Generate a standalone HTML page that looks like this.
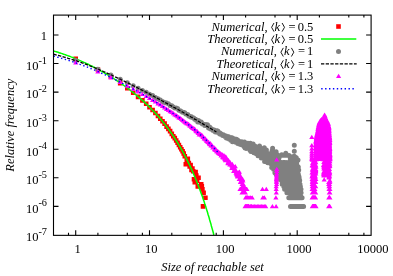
<!DOCTYPE html>
<html><head><meta charset="utf-8"><title>Reachable set size distribution</title>
<style>html,body{margin:0;padding:0;background:#fff;font-family:"Liberation Serif",serif}svg{display:block;will-change:transform}</style></head>
<body>
<svg width="393" height="276" viewBox="0 0 393 276">
<rect width="393" height="276" fill="#fff"/>
<defs><clipPath id="c"><rect x="53.5" y="15.1" width="317.6" height="220.25"/></clipPath></defs>
<g clip-path="url(#c)">
<path d="M73.4 56.5h4.6v4.6h-4.6zM95.6 67.2h4.6v4.6h-4.6zM108.6 74.4h4.6v4.6h-4.6zM117.9 80.8h4.6v4.6h-4.6zM125 86h4.6v4.6h-4.6zM130.9 90.5h4.6v4.6h-4.6zM135.8 94.6h4.6v4.6h-4.6zM140.1 98.1h4.6v4.6h-4.6zM143.9 101.5h4.6v4.6h-4.6zM147.2 104.9h4.6v4.6h-4.6zM150.3 107.7h4.6v4.6h-4.6zM153.1 110.7h4.6v4.6h-4.6zM155.7 113.7h4.6v4.6h-4.6zM158 116.5h4.6v4.6h-4.6zM160.2 119h4.6v4.6h-4.6zM162.3 121.3h4.6v4.6h-4.6zM164.3 124.3h4.6v4.6h-4.6zM166.1 126.6h4.6v4.6h-4.6zM167.8 128.8h4.6v4.6h-4.6zM169.5 131.6h4.6v4.6h-4.6zM171 134h4.6v4.6h-4.6zM172.5 135.8h4.6v4.6h-4.6zM173.9 138.2h4.6v4.6h-4.6zM175.3 140.5h4.6v4.6h-4.6zM176.6 142.7h4.6v4.6h-4.6zM177.9 144.9h4.6v4.6h-4.6zM179.1 146.9h4.6v4.6h-4.6zM180.3 148.9h4.6v4.6h-4.6zM181.4 151.2h4.6v4.6h-4.6zM182.5 153.9h4.6v4.6h-4.6zM183.5 161.9h4.6v4.6h-4.6zM184.5 157.4h4.6v4.6h-4.6zM185.5 156.6h4.6v4.6h-4.6zM186.5 160.7h4.6v4.6h-4.6zM187.4 164.2h4.6v4.6h-4.6zM188.3 162.8h4.6v4.6h-4.6zM189.2 167.6h4.6v4.6h-4.6zM190.1 166.3h4.6v4.6h-4.6zM190.9 169h4.6v4.6h-4.6zM191.7 176.9h4.6v4.6h-4.6zM192.5 180h4.6v4.6h-4.6zM193.3 169.7h4.6v4.6h-4.6zM194 173.3h4.6v4.6h-4.6zM194.8 178.3h4.6v4.6h-4.6zM195.5 184.1h4.6v4.6h-4.6zM196.2 175.5h4.6v4.6h-4.6zM196.9 184.1h4.6v4.6h-4.6zM197.5 184.1h4.6v4.6h-4.6zM198.2 184.1h4.6v4.6h-4.6zM198.9 181.9h4.6v4.6h-4.6zM199.5 184.1h4.6v4.6h-4.6zM200.1 186.9h4.6v4.6h-4.6zM200.7 204.1h4.6v4.6h-4.6zM201.3 190.5h4.6v4.6h-4.6zM203.1 195.5h4.6v4.6h-4.6z" fill="#f00"/>
<path d="M53.5 50.9 L54 51.1 L54.6 51.3 L55.2 51.4 L55.7 51.6 L56.3 51.8 L56.9 52 L57.4 52.1 L58 52.3 L58.6 52.5 L59.2 52.7 L59.7 52.9 L60.3 53 L60.9 53.2 L61.4 53.4 L62 53.6 L62.6 53.8 L63.1 54 L63.7 54.2 L64.3 54.4 L64.8 54.6 L65.4 54.8 L66 55 L66.5 55.2 L67.1 55.4 L67.7 55.6 L68.2 55.8 L68.8 56 L69.4 56.2 L70 56.4 L70.5 56.6 L71.1 56.9 L71.7 57.1 L72.2 57.3 L72.8 57.5 L73.4 57.8 L73.9 58 L74.5 58.2 L75.1 58.4 L75.6 58.7 L76.2 58.9 L76.8 59.1 L77.3 59.4 L77.9 59.6 L78.5 59.9 L79 60.1 L79.6 60.4 L80.2 60.6 L80.7 60.9 L81.3 61.1 L81.9 61.4 L82.5 61.6 L83 61.9 L83.6 62.1 L84.2 62.4 L84.7 62.6 L85.3 62.9 L85.9 63.2 L86.4 63.4 L87 63.7 L87.6 64 L88.1 64.3 L88.7 64.5 L89.3 64.8 L89.8 65.1 L90.4 65.4 L91 65.7 L91.5 65.9 L92.1 66.2 L92.7 66.5 L93.2 66.8 L93.8 67.1 L94.4 67.4 L95 67.7 L95.5 68 L96.1 68.3 L96.7 68.6 L97.2 68.9 L97.8 69.2 L98.4 69.5 L98.9 69.8 L99.5 70.1 L100.1 70.4 L100.6 70.8 L101.2 71.1 L101.8 71.4 L102.3 71.7 L102.9 72 L103.5 72.4 L104 72.7 L104.6 73 L105.2 73.3 L105.8 73.7 L106.3 74 L106.9 74.4 L107.5 74.7 L108 75 L108.6 75.4 L109.2 75.7 L109.7 76.1 L110.3 76.4 L110.9 76.8 L111.4 77.1 L112 77.5 L112.6 77.8 L113.1 78.2 L113.7 78.6 L114.3 78.9 L114.8 79.3 L115.4 79.7 L116 80 L116.5 80.4 L117.1 80.8 L117.7 81.2 L118.3 81.6 L118.8 81.9 L119.4 82.3 L120 82.7 L120.5 83.1 L121.1 83.5 L121.7 83.9 L122.2 84.3 L122.8 84.7 L123.4 85.1 L123.9 85.5 L124.5 85.9 L125.1 86.3 L125.6 86.8 L126.2 87.2 L126.8 87.6 L127.3 88 L127.9 88.4 L128.5 88.9 L129 89.3 L129.6 89.7 L130.2 90.2 L130.8 90.6 L131.3 91.1 L131.9 91.5 L132.5 91.9 L133 92.4 L133.6 92.9 L134.2 93.3 L134.7 93.8 L135.3 94.2 L135.9 94.7 L136.4 95.2 L137 95.7 L137.6 96.1 L138.1 96.6 L138.7 97.1 L139.3 97.6 L139.8 98.1 L140.4 98.6 L141 99.1 L141.6 99.6 L142.1 100.1 L142.7 100.6 L143.3 101.1 L143.8 101.6 L144.4 102.2 L145 102.7 L145.5 103.2 L146.1 103.8 L146.7 104.3 L147.2 104.8 L147.8 105.4 L148.4 106 L148.9 106.5 L149.5 107.1 L150.1 107.6 L150.6 108.2 L151.2 108.8 L151.8 109.4 L152.3 110 L152.9 110.6 L153.5 111.2 L154.1 111.8 L154.6 112.4 L155.2 113 L155.8 113.6 L156.3 114.2 L156.9 114.9 L157.5 115.5 L158 116.1 L158.6 116.8 L159.2 117.5 L159.7 118.1 L160.3 118.8 L160.9 119.5 L161.4 120.1 L162 120.8 L162.6 121.5 L163.1 122.2 L163.7 122.9 L164.3 123.6 L164.8 124.4 L165.4 125.1 L166 125.8 L166.6 126.6 L167.1 127.3 L167.7 128.1 L168.3 128.9 L168.8 129.6 L169.4 130.4 L170 131.2 L170.5 132 L171.1 132.8 L171.7 133.7 L172.2 134.5 L172.8 135.3 L173.4 136.2 L173.9 137 L174.5 137.9 L175.1 138.8 L175.6 139.7 L176.2 140.6 L176.8 141.5 L177.4 142.4 L177.9 143.3 L178.5 144.3 L179.1 145.2 L179.6 146.2 L180.2 147.1 L180.8 148.1 L181.3 149.1 L181.9 150.1 L182.5 151.2 L183 152.2 L183.6 153.2 L184.2 154.3 L184.7 155.4 L185.3 156.5 L185.9 157.6 L186.4 158.7 L187 159.8 L187.6 160.9 L188.1 162.1 L188.7 163.3 L189.3 164.5 L189.9 165.7 L190.4 166.9 L191 168.1 L191.6 169.4 L192.1 170.6 L192.7 171.9 L193.3 173.2 L193.8 174.5 L194.4 175.9 L195 177.2 L195.5 178.6 L196.1 180 L196.7 181.4 L197.2 182.8 L197.8 184.3 L198.4 185.7 L198.9 187.2 L199.5 188.7 L200.1 190.3 L200.6 191.8 L201.2 193.4 L201.8 195 L202.4 196.6 L202.9 198.3 L203.5 199.9 L204.1 201.6 L204.6 203.3 L205.2 205.1 L205.8 206.8 L206.3 208.6 L206.9 210.5 L207.5 212.3 L208 214.2 L208.6 216.1 L209.2 218 L209.7 220 L210.3 221.9 L210.9 223.9 L211.4 226 L212 228.1 L212.6 230.2 L213.2 232.3 L213.7 234.5 L214.3 236.7 L214.7 238.3" fill="none" stroke="#0f0" stroke-width="1.5"/>
<path d="M75.7 60.5h0M97.9 69.3h0M110.9 75h0M120.2 79.2h0M127.3 82.7h0M133.2 85.7h0M138.1 88.2h0M142.4 90.5h0M146.2 92.2h0M149.5 94.3h0M152.6 95.5h0M155.4 97.4h0M158 98.7h0M160.3 100.1h0M162.5 101.5h0M164.6 102.6h0M166.6 102.9h0M168.4 103.8h0M170.1 105.5h0M171.8 105.8h0M173.3 107h0M174.8 108.1h0M176.2 108h0M177.6 108.6h0M178.9 110.2h0M180.2 110.8h0M181.4 111.4h0M182.6 112.2h0M183.7 112.4h0M184.8 112.8h0M185.8 113.9h0M186.8 114.2h0M187.8 114.4h0M188.8 115.9h0M189.7 116.2h0M190.6 116.9h0M191.5 116.8h0M192.4 117.4h0M193.2 117.7h0M194 118.2h0M194.8 119.2h0M195.6 119.2h0M196.3 120.2h0M197.1 120.6h0M197.8 121.9h0M198.5 120.6h0M199.2 122.1h0M199.8 122h0M200.5 122.4h0M201.2 122.1h0M201.8 123h0M202.4 124h0M203 123.9h0M203.6 124.3h0M204.2 124.5h0M204.8 125.6h0M205.4 125.3h0M205.9 124.4h0M206.5 125.6h0M207 125.1h0M207.5 124.7h0M208.1 126.6h0M208.6 128h0M209.1 127.6h0M209.6 127.1h0M210.1 127.6h0M210.5 129.1h0M211 128.8h0M211.5 129h0M211.9 129.2h0M212.4 129.6h0M212.8 130.3h0M213.3 130.4h0M213.7 130.5h0M214.2 129.9h0M214.6 131.2h0M215 130.7h0M215.4 132.1h0M215.8 130.8h0M216.2 131.1h0M216.6 130.8h0M217 132.2h0M217.4 132.1h0M217.8 131h0M218.2 132.2h0M218.5 132h0M218.9 132.6h0M219.3 133h0M219.6 133.7h0M220 133.1h0M220.4 134.2h0M220.7 134.1h0M221.1 133.9h0M221.4 133.9h0M221.7 134.3h0M222.1 134.7h0M222.4 134.4h0M222.7 135.6h0M223.1 135h0M223.4 134.7h0M223.7 135.8h0M224 135.4h0M224.3 135.8h0M224.6 135.8h0M224.9 136.5h0M225.2 136.5h0M225.5 136.2h0M225.8 136.6h0M226.1 136.1h0M226.4 137.9h0M226.7 136.8h0M227 137.2h0M227.3 136.5h0M227.6 136.7h0M227.9 138.4h0M228.1 137.9h0M228.4 137.5h0M228.7 136.8h0M229 139h0M229.2 137.3h0M229.5 137.8h0M229.8 138.1h0M230 138.6h0M230.3 138.5h0M230.5 138.6h0M230.8 140.3h0M231 138.9h0M231.3 139.3h0M231.5 137.8h0M231.8 139.8h0M232 137.7h0M232.3 138.8h0M232.5 141.7h0M232.8 138.9h0M233 139.7h0M233.2 138.7h0M233.5 138.8h0M233.7 141.2h0M233.9 139.7h0M234.2 140.1h0M234.4 140h0M234.6 139h0M234.9 140.4h0M235.1 141.8h0M235.3 140h0M235.5 141.4h0M235.7 142.2h0M236 139.8h0M236.2 142.2h0M236.4 139.3h0M236.6 142.2h0M236.8 141.2h0M237 140.4h0M237.2 141.7h0M237.4 141.2h0M237.6 140.1h0M237.8 143.4h0M238 143.6h0M238.3 141.1h0M238.5 141.9h0M238.7 141.9h0M238.9 142.3h0M239 141.2h0M239.2 144h0M239.4 143h0M239.6 141.9h0M239.8 142.5h0M240 142.3h0M240.2 143.1h0M240.4 144.3h0M240.6 144.4h0M240.8 142.3h0M241 143.9h0M241.1 142.7h0M241.3 141.7h0M241.5 142.6h0M241.7 144.1h0M241.9 142.2h0M242.1 143.3h0M242.2 145h0M242.4 143.5h0M242.6 143.6h0M242.8 143.4h0M242.9 142.2h0M243.1 144.4h0M243.3 144.9h0M243.5 145.1h0M243.6 143.6h0M243.8 143.7h0M244 146.4h0M244.1 143.9h0M244.3 144.9h0M244.5 141.9h0M244.6 143.9h0M244.8 144h0M245 143.4h0M245.1 148h0M245.3 145.2h0M245.4 142.9h0M245.6 146h0M245.8 145.9h0M245.9 146.1h0M246.1 148.4h0M246.2 146.1h0M246.4 146.3h0M246.6 145.2h0M246.7 144.7h0M246.9 146.4h0M247 146.3h0M247.2 145h0M247.3 145.8h0M247.5 146.8h0M247.6 147h0M247.8 145.8h0M247.9 143.2h0M248.1 147.4h0M248.2 146.4h0M248.4 145.4h0M248.5 146.3h0M248.7 145.1h0M248.8 147.7h0M249 146.6h0M249.1 144.3h0M249.2 148.1h0M249.4 148.5h0M249.5 147.2h0M249.7 148.6h0M249.8 144.8h0M250 150.2h0M250.1 148.3h0M250.2 149.8h0M250.4 143.2h0M250.5 145h0M250.6 146.7h0M250.8 147.3h0M250.9 151.6h0M251.1 147.9h0M251.2 145.6h0M251.3 149h0M251.5 148.4h0M251.6 146.7h0M251.7 149.7h0M251.9 150.5h0M252 147.7h0M252.1 146.4h0M252.2 149.6h0M252.4 149.1h0M252.5 147.8h0M252.6 146.8h0M252.8 147.9h0M252.9 149.3h0M253 148.6h0M253.1 143.9h0M253.3 149.8h0M253.4 152.1h0M253.5 149.4h0M253.6 150.3h0M253.8 148.7h0M253.9 152.7h0M254 148.8h0M254.1 151.6h0M254.3 151.8h0M254.4 148.6h0M254.5 150.6h0M254.6 146h0M254.8 149.7h0M254.9 146.1h0M255 150.1h0M255.1 148.2h0M255.2 148.7h0M255.4 147.4h0M255.5 149.6h0M255.6 150.6h0M255.7 147.5h0M255.8 148.7h0M255.9 149.9h0M256.1 148.3h0M256.2 152.1h0M256.3 153.8h0M256.4 150.2h0M256.5 149.5h0M256.6 150.1h0M256.7 148.2h0M256.9 147h0M257 148.4h0M257.1 150.5h0M257.2 149.4h0M257.3 148.3h0M257.4 148.1h0M257.5 150.3h0M257.6 149.6h0M257.7 152h0M257.9 148.2h0M258 155.8h0M258.1 150.4h0M258.2 155.2h0M258.3 149.9h0M258.4 151.9h0M258.5 149.7h0M258.6 154.8h0M258.7 152.5h0M258.8 149.4h0M258.9 150.6h0M259 152.7h0M259.1 147.3h0M259.2 149.5h0M259.4 149.9h0M259.5 146h0M259.6 152h0M259.7 156.1h0M259.8 147.3h0M259.9 148.7h0M260 151.8h0M260.1 152.5h0M260.2 152.5h0M260.3 151.1h0M260.4 150.6h0M260.5 147.9h0M260.6 156.4h0M260.7 155.2h0M260.8 150.4h0M260.9 152h0M261 151.5h0M261.1 151.2h0M261.2 149.6h0M261.3 158h0M261.4 151.8h0M261.5 154.2h0M261.6 152h0M261.7 153.2h0M261.8 156.5h0M261.9 152.9h0M262 156.5h0M262.1 151.1h0M262.1 154.5h0M262.2 156.4h0M262.3 154.8h0M262.4 151.2h0M262.5 150.6h0M262.6 152.1h0M262.7 151.4h0M262.8 154h0M262.9 152.7h0M263 151.3h0M263.1 150.1h0M263.2 151.7h0M263.3 153.3h0M263.4 155.4h0M263.5 154.5h0M263.6 155.4h0M263.6 157.1h0M263.7 154.9h0M263.8 149.8h0M263.9 153.2h0M264 150.2h0M264.1 154.4h0M264.2 149.3h0M264.3 154h0M264.4 154.6h0M264.5 156h0M264.5 154.3h0M264.6 161.5h0M264.7 153.2h0M264.8 157h0M264.9 153.2h0M265 151.8h0M265.1 153.4h0M265.2 150.4h0M265.2 155.4h0M265.3 149.5h0M265.4 157.6h0M265.5 154.9h0M265.6 157.2h0M265.7 151.5h0M265.8 160h0M265.9 159.2h0M265.9 158.5h0M266 155h0M266.1 158.2h0M266.2 155.3h0M266.3 159.5h0M266.4 149.9h0M266.4 156h0M266.5 159.9h0M266.6 158.4h0M266.7 158.4h0M266.8 158.7h0M266.9 156.8h0M266.9 152.9h0M267 158.3h0M267.1 155.1h0M267.2 154.7h0M267.3 155.3h0M267.4 156.8h0M267.4 154.1h0M267.5 158h0M267.6 158h0M267.7 159.6h0M267.8 162.7h0M267.8 159.1h0M267.9 157.1h0M268 153.6h0M268.1 158h0M268.2 157.1h0M268.2 159.4h0M268.3 155.9h0M268.4 157.4h0M268.5 158.3h0M268.5 157.8h0M268.6 162.2h0M268.7 153.9h0M268.8 158h0M268.9 161.5h0M268.9 161.3h0M269 156.1h0M269.1 158.4h0M269.2 156.6h0M269.2 161.3h0M269.3 158.6h0M269.4 153.9h0M269.5 155.3h0M269.6 156.1h0M269.6 157h0M269.7 155.1h0M269.8 161.5h0M269.9 161.1h0M269.9 162.7h0M270 159h0M270.1 161.9h0M270.2 156.4h0M270.2 162.2h0M270.3 159.5h0M270.4 156.6h0M270.5 159.3h0M270.5 154.6h0M270.6 159.9h0M270.7 160.6h0M270.7 163.3h0M270.8 159.7h0M270.9 159.8h0M271 156.1h0M271 156.9h0M271.1 155.9h0M271.2 164h0M271.3 154.1h0M271.3 155.6h0M271.4 158.2h0M271.5 157.9h0M271.5 159.3h0M271.6 159.3h0M271.7 167.5h0M271.8 165.1h0M271.8 162.4h0M271.9 160.6h0M272 161.7h0M272 152.6h0M272.1 150.7h0M272.2 163.7h0M272.2 155.8h0M272.3 152.8h0M272.4 159.4h0M272.5 153.9h0M272.5 162.2h0M272.6 153.7h0M272.7 161.5h0M272.7 166h0M272.8 161h0M272.9 159.9h0M272.9 163.3h0M273 167h0M273.1 156.9h0M273.1 166h0M273.2 161.7h0M273.3 159.3h0M273.3 163.8h0M273.4 156.5h0M273.5 158h0M273.5 158.8h0M273.6 169.2h0M273.7 168.6h0M273.7 153.1h0M273.8 151.9h0M273.9 155.9h0M273.9 160.5h0M274 165.5h0M274.1 160.1h0M274.1 152.7h0M274.2 168.1h0M274.3 166h0M274.3 158.2h0M274.4 158.5h0M274.5 154.6h0M274.5 164.6h0M274.6 155.3h0M274.7 158.7h0M274.7 166.5h0M274.8 154.5h0M274.9 172.8h0M274.9 166.5h0M275 171.3h0M275.1 169.2h0M275.1 169.9h0M275.2 167h0M275.2 158.4h0M275.3 164.6h0M275.4 171.3h0M275.4 156.6h0M275.5 169.9h0M275.6 163.4h0M275.6 166.5h0M275.7 154.5h0M275.8 171.3h0M275.8 153.5h0M275.9 160.8h0M275.9 165.5h0M276 159.8h0M276.1 166h0M276.1 168.1h0M276.2 170.6h0M276.2 174.6h0M276.3 155.3h0M276.4 159.2h0M276.4 166.5h0M276.5 154.5h0M276.6 154h0M276.6 172.8h0M276.7 155.5h0M276.7 163.7h0M276.8 162.1h0M276.9 173.7h0M276.9 156.4h0M277 164.2h0M277 154.7h0M277.1 174.6h0M277.2 158.9h0M277.2 160.3h0M277.3 154.8h0M277.3 154.8h0M277.4 159.8h0M277.5 174.6h0M277.5 159h0M277.6 162.2h0M277.6 171.3h0M277.7 169.9h0M277.8 176.7h0M277.8 173.7h0M277.9 161.7h0M277.9 170.6h0M278 162.4h0M278 167h0M278.1 176.7h0M278.2 177.8h0M278.2 162.4h0M278.3 156.7h0M278.3 158.3h0M278.4 175.6h0M278.5 170.6h0M278.5 156.4h0M278.6 166.5h0M278.6 170.6h0M278.7 155.7h0M278.7 176.7h0M278.8 167.5h0M278.9 177.8h0M278.9 164.6h0M279 172h0M279 172.8h0M279.1 179.2h0M279.2 173.7h0M279.3 166.5h0M279.3 170.6h0M279.4 172h0M279.4 172.8h0M279.5 166h0M279.5 168.1h0M279.6 162.2h0M279.6 167h0M279.7 176.7h0M279.8 165.1h0M279.8 177.8h0M279.9 169.9h0M279.9 172h0M280 172.8h0M280.1 172h0M280.1 165.1h0M280.2 163.7h0M280.2 173.7h0M280.4 176.7h0M280.4 165.1h0M280.5 171.3h0M280.6 168.1h0M280.6 174.6h0M280.7 175.6h0M280.8 172.8h0M280.8 179.2h0M280.9 176.7h0M280.9 174.6h0M281 165.5h0M281.1 170.6h0M281.1 173.7h0M281.2 167h0M281.2 166h0M281.3 169.2h0M281.4 163.1h0M281.5 180.6h0M281.7 170.6h0M281.7 166h0M281.8 175.6h0M281.8 167h0M281.9 168.6h0M282 179.2h0M282.1 179.2h0M282.1 173.7h0M282.2 184.2h0M282.3 174.6h0M282.3 167.5h0M282.4 182.3h0M282.4 168.1h0M282.5 176.7h0M282.5 179.2h0M282.6 175.6h0M282.6 170.6h0M282.7 168.6h0M282.7 162.8h0M282.8 170.6h0M282.8 179.2h0M282.9 184.2h0M282.9 175.6h0M283 180.6h0M283 179.2h0M283.1 180.6h0M283.1 176.7h0M283.2 167h0M283.3 168.1h0M283.3 182.3h0M283.4 176.7h0M283.4 163.9h0M283.5 184.2h0M283.6 179.2h0M283.6 172h0M283.7 170.6h0M283.7 172h0M283.7 166.5h0M283.8 186.4h0M283.8 164.4h0M283.9 182.3h0M284 170.6h0M284.1 168.1h0M284.1 184.2h0M284.2 162.5h0M284.3 186.4h0M284.3 163.4h0M284.4 177.8h0M284.5 165.5h0M284.5 172.8h0M284.6 172h0M284.6 189.2h0M284.7 165.1h0M284.8 163.7h0M284.8 186.4h0M284.9 184.2h0M284.9 167.5h0M284.9 171.3h0M285 170.6h0M285.1 172.8h0M285.1 177.8h0M285.2 167.5h0M285.3 182.3h0M285.3 179.2h0M285.4 167h0M285.4 186.4h0M285.5 168.6h0M285.5 177.8h0M285.6 168.6h0M285.6 186.4h0M285.7 169.9h0M285.7 179.2h0M285.8 170.6h0M285.8 180.6h0M285.9 163.9h0M285.9 172.8h0M286 175.6h0M286 165.5h0M286.1 164.1h0M286.1 171.3h0M286.1 169.9h0M286.2 184.2h0M286.3 172.8h0M286.3 175.6h0M286.4 186.4h0M286.4 168.6h0M286.5 189.2h0M286.5 180.6h0M286.6 184.2h0M286.6 174.6h0M286.6 173.7h0M286.7 174.6h0M286.7 184.2h0M286.8 162.7h0M286.8 171.3h0M286.9 192.8h0M286.9 192.8h0M287 180.6h0M287 170.6h0M287 186.4h0M287.1 169.2h0M287.2 189.2h0M287.3 180.6h0M287.3 165.5h0M287.3 184.2h0M287.4 163.6h0M287.4 171.3h0M287.5 173.7h0M287.6 172h0M287.6 171.3h0M287.7 175.6h0M287.7 186.4h0M287.7 174.6h0M287.8 184.2h0M287.8 186.4h0M287.9 184.2h0M287.9 184.2h0M288 167.5h0M288 172.8h0M288 182.3h0M288.1 186.4h0M288.1 182.3h0M288.2 168.1h0M288.3 164.3h0M288.3 170.6h0M288.3 177.8h0M288.4 167h0M288.4 186.4h0M288.5 179.2h0M288.5 174.6h0M288.6 177.8h0M288.6 168.1h0M288.7 186.4h0M288.8 165.5h0M288.8 197.8h0M288.8 179.2h0M288.9 197.8h0M289 174.6h0M289 164.6h0M289 189.2h0M289.1 186.4h0M289.1 167.5h0M289.2 186.4h0M289.2 176.7h0M289.3 170.6h0M289.3 167.5h0M289.4 175.6h0M289.4 164.6h0M289.5 166.5h0M289.5 165.1h0M289.5 167h0M289.6 197.8h0M289.7 180.6h0M289.7 192.8h0M289.7 180.6h0M289.8 179.2h0M289.8 165.5h0M289.9 170.6h0M289.9 197.8h0M289.9 167.5h0M290 172.8h0M290 175.6h0M290.1 189.2h0M290.1 197.8h0M290.1 180.6h0M290.2 169.9h0M290.2 161.4h0M290.3 192.8h0M290.3 172h0M290.3 179.2h0M290.4 162.6h0M290.4 163.3h0M290.5 206.4h0M290.5 206.4h0M290.5 169.9h0M290.6 182.3h0M290.6 206.4h0M290.7 174.6h0M290.7 158.7h0M290.7 161.9h0M290.8 192.8h0M290.8 206.4h0M290.9 174.6h0M290.9 206.4h0M290.9 176.7h0M291 206.4h0M291 162.5h0M291.1 192.8h0M291.1 186.4h0M291.1 206.4h0M291.2 168.1h0M291.2 175.6h0M291.2 169.2h0M291.3 206.4h0M291.3 172.8h0M291.4 162.3h0M291.4 197.8h0M291.4 189.2h0M291.5 192.8h0M291.5 177.8h0M291.6 172.8h0M291.6 206.4h0M291.6 175.6h0M291.7 182.3h0M291.7 175.6h0M291.7 174.6h0M291.8 206.4h0M291.8 197.8h0M291.9 197.8h0M291.9 206.4h0M291.9 192.8h0M292 171.3h0M292 167.5h0M292 179.2h0M292.1 197.8h0M292.1 206.4h0M292.2 172h0M292.2 206.4h0M292.2 173.7h0M292.3 197.8h0M292.3 197.8h0M292.3 182.3h0M292.4 176.7h0M292.4 184.2h0M292.5 184.2h0M292.5 206.4h0M292.5 158.1h0M292.6 184.2h0M292.6 197.8h0M292.6 192.8h0M292.7 184.2h0M292.7 197.8h0M292.8 206.4h0M292.8 197.8h0M292.8 175.6h0M292.9 174.6h0M292.9 168.6h0M292.9 162h0M293 179.2h0M293 171.3h0M293 197.8h0M293.1 189.2h0M293.1 186.4h0M293.2 170.6h0M293.2 192.8h0M293.2 206.4h0M293.3 197.8h0M293.3 206.4h0M293.3 184.2h0M293.4 206.4h0M293.4 189.2h0M293.4 186.4h0M293.5 206.4h0M293.5 197.8h0M293.6 159.8h0M293.6 180.6h0M293.6 172h0M293.7 197.8h0M293.7 172h0M293.7 206.4h0M293.8 197.8h0M293.8 172.8h0M293.8 192.8h0M293.9 206.4h0M293.9 197.8h0M293.9 176.7h0M294 206.4h0M294 206.4h0M294.1 165.1h0M294.1 172.8h0M294.1 184.2h0M294.2 197.8h0M294.2 164.1h0M294.2 197.8h0M294.3 206.4h0M294.3 176.7h0M294.3 166h0M294.4 168.6h0M294.4 176.7h0M294.4 182.3h0M294.5 192.8h0M294.5 206.4h0M294.5 206.4h0M294.6 197.8h0M294.6 184.2h0M294.7 189.2h0M294.7 197.8h0M294.7 197.8h0M294.8 169.2h0M294.8 170.6h0M294.8 157.6h0M294.9 186.4h0M294.9 197.8h0M294.9 168.1h0M295 163h0M295 168.6h0M295 206.4h0M295.1 186.4h0M295.1 192.8h0M295.1 174.6h0M295.2 167.5h0M295.2 189.2h0M295.2 158.8h0M295.3 176.7h0M295.3 189.2h0M295.3 197.8h0M295.4 192.8h0M295.4 189.2h0M295.4 160.5h0M295.5 182.3h0M295.5 197.8h0M295.5 157.2h0M295.6 173.7h0M295.6 168.1h0M295.6 177.8h0M295.7 158.6h0M295.7 206.4h0M295.7 175.6h0M295.8 166.5h0M295.8 206.4h0M295.8 197.8h0M295.9 157.5h0M295.9 197.8h0M295.9 173.7h0M296 168.1h0M296 162.8h0M296 161.3h0M296.1 197.8h0M296.1 192.8h0M296.1 189.2h0M296.2 192.8h0M296.2 171.3h0M296.2 163.2h0M296.3 192.8h0M296.3 176.7h0M296.3 168.6h0M296.4 189.2h0M296.4 159.6h0M296.4 206.4h0M296.5 197.8h0M296.5 192.8h0M296.5 189.2h0M296.6 163.5h0M296.6 159.1h0M296.6 197.8h0M296.7 197.8h0M296.7 164.6h0M296.7 192.8h0M296.8 184.2h0M296.8 192.8h0M296.8 161.9h0M296.9 206.4h0M296.9 206.4h0M296.9 189.2h0M297 197.8h0M297 184.2h0M297 192.8h0M297.1 160.3h0M297.1 168.1h0M297.1 197.8h0M297.2 184.2h0M297.2 186.4h0M297.2 179.2h0M297.3 192.8h0M297.3 177.8h0M297.3 197.8h0M297.3 189.2h0M297.4 197.8h0M297.4 197.8h0M297.4 176.7h0M297.5 179.2h0M297.5 206.4h0M297.5 206.4h0M297.6 197.8h0M297.6 168.1h0M297.6 189.2h0M297.7 168.6h0M297.7 179.2h0M297.7 197.8h0M297.8 179.2h0M297.8 166.5h0M297.8 197.8h0M297.9 180.6h0M297.9 176.7h0M297.9 206.4h0M297.9 206.4h0M298 197.8h0M298 189.2h0M298 180.6h0M298.1 206.4h0M298.1 197.8h0M298.1 173.7h0M298.2 192.8h0M298.2 176.7h0M298.2 180.6h0M298.3 167h0M298.3 192.8h0M298.3 179.2h0M298.4 206.4h0M298.4 174.6h0M298.4 186.4h0M298.4 189.2h0M298.5 206.4h0M298.5 170.6h0M298.5 206.4h0M298.6 177.8h0M298.6 197.8h0M298.6 184.2h0M298.7 182.3h0M298.7 179.2h0M298.7 169.9h0M298.8 206.4h0M298.8 192.8h0M298.8 197.8h0M298.8 197.8h0M298.9 206.4h0M298.9 192.8h0M298.9 182.3h0M299 197.8h0M299 184.2h0M299 176.7h0M299.1 177.8h0M299.1 206.4h0M299.1 189.2h0M299.1 206.4h0M299.2 186.4h0M299.2 197.8h0M299.2 206.4h0M299.3 197.8h0M299.3 179.2h0M299.3 206.4h0M299.4 186.4h0M299.4 197.8h0M299.4 206.4h0M299.4 206.4h0M299.5 192.8h0M299.5 206.4h0M299.5 186.4h0M299.6 197.8h0M299.6 206.4h0M299.6 206.4h0M299.7 206.4h0M299.7 206.4h0M299.7 192.8h0M299.7 180.6h0M299.8 184.2h0M299.8 186.4h0M299.8 189.2h0M299.9 206.4h0M299.9 197.8h0M299.9 206.4h0M300 184.2h0M300 186.4h0M300 206.4h0M300 192.8h0M300.1 206.4h0M300.1 186.4h0M300.1 206.4h0M300.2 206.4h0M300.2 192.8h0M300.2 186.4h0M300.2 186.4h0M300.3 206.4h0M300.3 206.4h0M300.3 206.4h0M300.4 206.4h0M300.4 206.4h0M300.4 186.4h0M300.5 197.8h0M300.5 189.2h0M300.5 206.4h0M300.5 192.8h0M300.6 206.4h0M300.6 189.2h0M300.6 206.4h0M300.7 189.2h0M300.7 197.8h0M300.7 192.8h0M300.7 189.2h0M300.8 206.4h0M300.8 206.4h0M300.8 192.8h0M300.9 206.4h0M300.9 197.8h0M300.9 206.4h0M300.9 197.8h0M301 197.8h0M301 197.8h0M301 189.2h0M301.1 206.4h0M301.1 192.8h0M301.1 206.4h0M301.1 197.8h0M301.2 206.4h0M301.2 206.4h0M301.2 197.8h0M301.3 206.4h0M301.3 206.4h0M301.3 197.8h0M301.3 206.4h0M301.4 197.8h0M301.4 206.4h0M301.4 197.8h0M301.4 197.8h0M301.5 206.4h0M301.5 206.4h0M301.5 206.4h0M301.6 197.8h0M301.6 206.4h0M301.6 206.4h0M301.6 197.8h0M301.7 206.4h0M301.7 197.8h0M301.7 206.4h0M301.8 206.4h0M301.8 206.4h0M301.8 206.4h0M301.8 206.4h0M301.9 206.4h0M301.9 206.4h0M301.9 197.8h0M302 206.4h0M302 206.4h0M302 197.8h0M302 206.4h0M302.1 197.8h0M302.1 206.4h0M302.1 206.4h0M302.1 206.4h0M302.2 206.4h0M302.2 206.4h0M302.2 206.4h0M302.3 206.4h0M302.3 206.4h0M302.3 206.4h0M302.3 206.4h0M302.4 206.4h0M302.4 206.4h0M302.4 206.4h0M302.4 206.4h0M302.5 206.4h0M302.5 206.4h0M302.5 206.4h0M302.6 206.4h0M302.6 206.4h0M302.6 206.4h0M302.6 206.4h0M302.7 206.4h0M302.7 206.4h0M302.7 206.4h0M302.7 206.4h0M302.8 206.4h0M302.8 206.4h0M302.8 206.4h0M302.9 206.4h0M302.9 206.4h0M302.9 206.4h0M302.9 206.4h0M303 206.4h0M303 206.4h0M303 206.4h0M303 206.4h0M303.1 206.4h0M303.1 206.4h0M303.1 206.4h0M303.1 206.4h0M303.2 206.4h0M303.2 206.4h0M303.2 206.4h0M303.3 206.4h0M303.3 206.4h0M303.3 206.4h0M303.3 206.4h0M303.4 206.4h0M303.4 206.4h0M303.4 206.4h0M303.4 206.4h0M303.5 206.4h0M303.5 206.4h0M303.5 206.4h0M303.5 206.4h0M303.6 206.4h0M303.6 206.4h0M294.3 156.2h0M292.2 156.8h0M296.3 157.8h0M279.2 155.8h0M281 155.4h0M283 155.3h0M285 155.3h0M287 155.3h0M289 155.5h0M290.2 157.5h0M279 158h0M280 162.3h0M282 162.4h0M284 162.4h0M286 162.4h0M288 162.4h0M290 161h0M294.3 145.3h0M294.3 151.2h0M285.8 153.3h0M281.7 154.8h0M272.6 148.2h0M276.1 151.7h0M298 159.9h0M264.3 147.8h0" fill="none" stroke="#808080" stroke-width="5" stroke-linecap="round"/>
<path d="M53.5 54.2 L54.3 54.4 L55.1 54.6 L55.9 54.8 L56.7 55 L57.6 55.3 L58.4 55.5 L59.2 55.7 L60 55.9 L60.8 56.1 L61.7 56.3 L62.5 56.6 L63.3 56.8 L64.1 57 L64.9 57.3 L65.8 57.5 L66.6 57.8 L67.4 58 L68.2 58.3 L69 58.5 L69.8 58.8 L70.7 59 L71.5 59.3 L72.3 59.5 L73.1 59.8 L73.9 60.1 L74.8 60.3 L75.6 60.6 L76.4 60.9 L77.2 61.2 L78 61.5 L78.9 61.7 L79.7 62 L80.5 62.3 L81.3 62.6 L82.1 62.9 L83 63.2 L83.8 63.5 L84.6 63.8 L85.4 64.1 L86.2 64.4 L87 64.7 L87.9 65.1 L88.7 65.4 L89.5 65.7 L90.3 66 L91.1 66.3 L92 66.7 L92.8 67 L93.6 67.3 L94.4 67.7 L95.2 68 L96.1 68.3 L96.9 68.7 L97.7 69 L98.5 69.4 L99.3 69.7 L100.1 70.1 L101 70.4 L101.8 70.8 L102.6 71.1 L103.4 71.5 L104.2 71.8 L105.1 72.2 L105.9 72.6 L106.7 72.9 L107.5 73.3 L108.3 73.7 L109.2 74 L110 74.4 L110.8 74.8 L111.6 75.2 L112.4 75.5 L113.2 75.9 L114.1 76.3 L114.9 76.7 L115.7 77.1 L116.5 77.4 L117.3 77.8 L118.2 78.2 L119 78.6 L119.8 79 L120.6 79.4 L121.4 79.8 L122.3 80.2 L123.1 80.6 L123.9 81 L124.7 81.4 L125.5 81.8 L126.3 82.2 L127.2 82.6 L128 83 L128.8 83.4 L129.6 83.8 L130.4 84.2 L131.3 84.6 L132.1 85 L132.9 85.5 L133.7 85.9 L134.5 86.3 L135.4 86.7 L136.2 87.1 L137 87.5 L137.8 88 L138.6 88.4 L139.5 88.8 L140.3 89.2 L141.1 89.7 L141.9 90.1 L142.7 90.5 L143.5 90.9 L144.4 91.4 L145.2 91.8 L146 92.2 L146.8 92.6 L147.6 93.1 L148.5 93.5 L149.3 93.9 L150.1 94.4 L150.9 94.8 L151.7 95.2 L152.6 95.7 L153.4 96.1 L154.2 96.5 L155 97 L155.8 97.4 L156.6 97.9 L157.5 98.3 L158.3 98.7 L159.1 99.2 L159.9 99.6 L160.7 100.1 L161.6 100.5 L162.4 101 L163.2 101.4 L164 101.9 L164.8 102.3 L165.7 102.8 L166.5 103.2 L167.3 103.6 L168.1 104.1 L168.9 104.5 L169.7 105 L170.6 105.5 L171.4 105.9 L172.2 106.4 L173 106.8 L173.8 107.3 L174.7 107.7 L175.5 108.2 L176.3 108.6 L177.1 109.1 L177.9 109.5 L178.8 110 L179.6 110.5 L180.4 110.9 L181.2 111.4 L182 111.8 L182.9 112.3 L183.7 112.8 L184.5 113.2 L185.3 113.7 L186.1 114.2 L186.9 114.6 L187.8 115.1 L188.6 115.6 L189.4 116 L190.2 116.5 L191 117 L191.9 117.4 L192.7 117.9 L193.5 118.4 L194.3 118.9 L195.1 119.3 L196 119.8 L196.8 120.3 L197.6 120.8 L198.4 121.2 L199.2 121.7 L200 122.2 L200.9 122.7 L201.7 123.1 L202.5 123.6 L203.3 124.1 L204.1 124.6 L205 125.1 L205.8 125.6 L206.6 126.1 L207.4 126.5 L208.2 127 L209.1 127.5 L209.9 128 L210.7 128.5 L211.5 129 L212.3 129.5 L213.1 130 L214 130.5 L214.8 131 L215.6 131.5 L216.4 132" fill="none" stroke="#000" stroke-width="1.3" stroke-dasharray="3.3 1.4"/>
<path d="M75.7 60.3l2.6 4.3h-5.2zM97.9 69.1l2.6 4.3h-5.2zM110.9 75.1l2.6 4.3h-5.2zM120.2 79.6l2.6 4.3h-5.2zM127.3 83.4l2.6 4.3h-5.2zM133.2 86.5l2.6 4.3h-5.2zM138.1 89.1l2.6 4.3h-5.2zM142.4 91.7l2.6 4.3h-5.2zM146.2 93.8l2.6 4.3h-5.2zM149.5 95.8l2.6 4.3h-5.2zM152.6 97.8l2.6 4.3h-5.2zM155.4 99.3l2.6 4.3h-5.2zM158 101.1l2.6 4.3h-5.2zM160.3 102.3l2.6 4.3h-5.2zM162.5 103.8l2.6 4.3h-5.2zM164.6 105.2l2.6 4.3h-5.2zM166.6 106.6l2.6 4.3h-5.2zM168.4 107.7l2.6 4.3h-5.2zM170.1 109l2.6 4.3h-5.2zM171.8 109.8l2.6 4.3h-5.2zM173.3 111l2.6 4.3h-5.2zM174.8 112.2l2.6 4.3h-5.2zM176.2 112.9l2.6 4.3h-5.2zM177.6 113.9l2.6 4.3h-5.2zM178.9 115.1l2.6 4.3h-5.2zM180.2 115.7l2.6 4.3h-5.2zM181.4 116.8l2.6 4.3h-5.2zM182.6 117.7l2.6 4.3h-5.2zM183.7 118.4l2.6 4.3h-5.2zM184.8 119.5l2.6 4.3h-5.2zM185.8 120.2l2.6 4.3h-5.2zM186.8 120.9l2.6 4.3h-5.2zM187.8 121.3l2.6 4.3h-5.2zM188.8 122l2.6 4.3h-5.2zM189.7 123.2l2.6 4.3h-5.2zM190.6 123.4l2.6 4.3h-5.2zM191.5 124.6l2.6 4.3h-5.2zM192.4 125.2l2.6 4.3h-5.2zM193.2 125.7l2.6 4.3h-5.2zM194 126.5l2.6 4.3h-5.2zM194.8 126.6l2.6 4.3h-5.2zM195.6 127.9l2.6 4.3h-5.2zM196.3 129l2.6 4.3h-5.2zM197.1 128.8l2.6 4.3h-5.2zM197.8 130l2.6 4.3h-5.2zM198.5 130.6l2.6 4.3h-5.2zM199.2 132.2l2.6 4.3h-5.2zM199.8 131.3l2.6 4.3h-5.2zM200.5 131.9l2.6 4.3h-5.2zM201.2 132.5l2.6 4.3h-5.2zM201.8 133l2.6 4.3h-5.2zM202.4 133.3l2.6 4.3h-5.2zM203 134.6l2.6 4.3h-5.2zM203.6 134.7l2.6 4.3h-5.2zM204.2 136l2.6 4.3h-5.2zM204.8 136.4l2.6 4.3h-5.2zM205.4 136.3l2.6 4.3h-5.2zM205.9 137.1l2.6 4.3h-5.2zM206.5 138.5l2.6 4.3h-5.2zM207 138.2l2.6 4.3h-5.2zM207.5 138.9l2.6 4.3h-5.2zM208.1 139.8l2.6 4.3h-5.2zM208.6 139.7l2.6 4.3h-5.2zM209.1 140.6l2.6 4.3h-5.2zM209.6 141.8l2.6 4.3h-5.2zM210.1 142l2.6 4.3h-5.2zM210.5 140.9l2.6 4.3h-5.2zM211 143.3l2.6 4.3h-5.2zM211.5 142.7l2.6 4.3h-5.2zM211.9 143l2.6 4.3h-5.2zM212.4 143.4l2.6 4.3h-5.2zM212.8 145.1l2.6 4.3h-5.2zM213.3 145l2.6 4.3h-5.2zM213.7 145.2l2.6 4.3h-5.2zM214.2 145.2l2.6 4.3h-5.2zM214.6 146.6l2.6 4.3h-5.2zM215 147.4l2.6 4.3h-5.2zM215.4 146.4l2.6 4.3h-5.2zM215.8 146.8l2.6 4.3h-5.2zM216.2 147.7l2.6 4.3h-5.2zM216.6 148.9l2.6 4.3h-5.2zM217 148.6l2.6 4.3h-5.2zM217.4 149.2l2.6 4.3h-5.2zM217.8 149.1l2.6 4.3h-5.2zM218.2 150.4l2.6 4.3h-5.2zM218.5 149.6l2.6 4.3h-5.2zM218.9 150.1l2.6 4.3h-5.2zM219.3 151.2l2.6 4.3h-5.2zM219.6 150.5l2.6 4.3h-5.2zM220 151l2.6 4.3h-5.2zM220.4 151.6l2.6 4.3h-5.2zM220.7 151.3l2.6 4.3h-5.2zM221.1 153.2l2.6 4.3h-5.2zM221.4 152.3l2.6 4.3h-5.2zM221.7 152.2l2.6 4.3h-5.2zM222.1 152.7l2.6 4.3h-5.2zM222.4 152.3l2.6 4.3h-5.2zM222.7 154.7l2.6 4.3h-5.2zM223.1 155.3l2.6 4.3h-5.2zM223.4 154l2.6 4.3h-5.2zM223.7 154.1l2.6 4.3h-5.2zM224 153l2.6 4.3h-5.2zM224.3 154.6l2.6 4.3h-5.2zM224.6 156.3l2.6 4.3h-5.2zM224.9 155l2.6 4.3h-5.2zM225.2 157l2.6 4.3h-5.2zM225.5 158l2.6 4.3h-5.2zM225.8 154.3l2.6 4.3h-5.2zM226.1 156.7l2.6 4.3h-5.2zM226.4 156.7l2.6 4.3h-5.2zM226.7 157.1l2.6 4.3h-5.2zM227 156.2l2.6 4.3h-5.2zM227.3 158l2.6 4.3h-5.2zM227.6 157.4l2.6 4.3h-5.2zM227.9 160.2l2.6 4.3h-5.2zM228.1 161l2.6 4.3h-5.2zM228.4 158.1l2.6 4.3h-5.2zM228.7 158.3l2.6 4.3h-5.2zM229 159.7l2.6 4.3h-5.2zM229.2 160.3l2.6 4.3h-5.2zM229.5 160.7l2.6 4.3h-5.2zM229.8 162.1l2.6 4.3h-5.2zM230 159.8l2.6 4.3h-5.2zM230.3 161l2.6 4.3h-5.2zM230.5 161.5l2.6 4.3h-5.2zM230.8 162l2.6 4.3h-5.2zM231 161.5l2.6 4.3h-5.2zM231.3 162.5l2.6 4.3h-5.2zM231.5 162.5l2.6 4.3h-5.2zM231.8 165.6l2.6 4.3h-5.2zM232 163.4l2.6 4.3h-5.2zM232.3 161.7l2.6 4.3h-5.2zM232.5 165.6l2.6 4.3h-5.2zM232.8 165.6l2.6 4.3h-5.2zM233 164l2.6 4.3h-5.2zM233.2 164.5l2.6 4.3h-5.2zM233.5 165l2.6 4.3h-5.2zM233.7 168.8l2.6 4.3h-5.2zM233.9 165.6l2.6 4.3h-5.2zM234.2 168.8l2.6 4.3h-5.2zM234.4 168.1l2.6 4.3h-5.2zM234.6 166.7l2.6 4.3h-5.2zM234.9 168.1l2.6 4.3h-5.2zM235.1 166.7l2.6 4.3h-5.2zM235.3 163.9l2.6 4.3h-5.2zM235.5 167.4l2.6 4.3h-5.2zM235.7 167.4l2.6 4.3h-5.2zM236 170.3l2.6 4.3h-5.2zM236.2 170.3l2.6 4.3h-5.2zM236.4 171.2l2.6 4.3h-5.2zM236.6 170.3l2.6 4.3h-5.2zM236.8 172.1l2.6 4.3h-5.2zM237 171.2l2.6 4.3h-5.2zM237.2 171.2l2.6 4.3h-5.2zM237.4 173.1l2.6 4.3h-5.2zM237.6 174.2l2.6 4.3h-5.2zM237.8 174.2l2.6 4.3h-5.2zM238 171.2l2.6 4.3h-5.2zM238.3 172.1l2.6 4.3h-5.2zM238.5 170.3l2.6 4.3h-5.2zM238.7 170.3l2.6 4.3h-5.2zM238.9 173.1l2.6 4.3h-5.2zM239 172.1l2.6 4.3h-5.2zM239.2 176.7l2.6 4.3h-5.2zM239.4 169.5l2.6 4.3h-5.2zM239.6 172.1l2.6 4.3h-5.2zM239.8 174.2l2.6 4.3h-5.2zM240 176.7l2.6 4.3h-5.2zM240.2 174.2l2.6 4.3h-5.2zM240.4 179.8l2.6 4.3h-5.2zM240.6 176.7l2.6 4.3h-5.2zM240.8 174.2l2.6 4.3h-5.2zM241 175.3l2.6 4.3h-5.2zM241.1 178.1l2.6 4.3h-5.2zM241.3 175.3l2.6 4.3h-5.2zM241.5 179.8l2.6 4.3h-5.2zM241.7 178.1l2.6 4.3h-5.2zM241.9 179.8l2.6 4.3h-5.2zM242.1 181.7l2.6 4.3h-5.2zM242.2 178.1l2.6 4.3h-5.2zM242.4 183.9l2.6 4.3h-5.2zM242.6 176.7l2.6 4.3h-5.2zM242.8 183.9l2.6 4.3h-5.2zM242.9 178.1l2.6 4.3h-5.2zM243.1 186.7l2.6 4.3h-5.2zM243.3 181.7l2.6 4.3h-5.2zM243.5 186.7l2.6 4.3h-5.2zM243.6 190.3l2.6 4.3h-5.2zM243.8 183.9l2.6 4.3h-5.2zM244 183.9l2.6 4.3h-5.2zM244.1 190.3l2.6 4.3h-5.2zM244.3 183.9l2.6 4.3h-5.2zM244.5 190.3l2.6 4.3h-5.2zM244.6 186.7l2.6 4.3h-5.2zM244.8 186.7l2.6 4.3h-5.2zM245 186.7l2.6 4.3h-5.2zM245.1 203.9l2.6 4.3h-5.2zM245.3 186.7l2.6 4.3h-5.2zM245.4 190.3l2.6 4.3h-5.2zM245.6 195.3l2.6 4.3h-5.2zM245.8 203.9l2.6 4.3h-5.2zM245.9 203.9l2.6 4.3h-5.2zM246.1 203.9l2.6 4.3h-5.2zM246.2 195.3l2.6 4.3h-5.2zM246.4 203.9l2.6 4.3h-5.2zM246.6 203.9l2.6 4.3h-5.2zM246.7 203.9l2.6 4.3h-5.2zM246.9 195.3l2.6 4.3h-5.2zM247 203.9l2.6 4.3h-5.2zM247.2 203.9l2.6 4.3h-5.2zM247.3 195.3l2.6 4.3h-5.2zM247.5 203.9l2.6 4.3h-5.2zM247.6 203.9l2.6 4.3h-5.2zM247.8 203.9l2.6 4.3h-5.2zM248.2 203.9l2.6 4.3h-5.2zM248.4 203.9l2.6 4.3h-5.2zM248.5 203.9l2.6 4.3h-5.2zM248.7 203.9l2.6 4.3h-5.2zM248.8 203.9l2.6 4.3h-5.2zM249 203.9l2.6 4.3h-5.2zM251.2 203.9l2.6 4.3h-5.2zM247.5 203.9l2.6 4.3h-5.2zM248.9 203.9l2.6 4.3h-5.2zM250.3 203.9l2.6 4.3h-5.2zM251.7 203.9l2.6 4.3h-5.2zM253.1 203.9l2.6 4.3h-5.2zM254.5 203.9l2.6 4.3h-5.2zM255.9 203.9l2.6 4.3h-5.2zM257.3 203.9l2.6 4.3h-5.2zM258.7 203.9l2.6 4.3h-5.2zM260.1 203.9l2.6 4.3h-5.2zM261.5 203.9l2.6 4.3h-5.2zM262.9 203.9l2.6 4.3h-5.2zM264.3 203.9l2.6 4.3h-5.2zM265.7 203.9l2.6 4.3h-5.2zM247.5 195.3l2.6 4.3h-5.2zM249 195.3l2.6 4.3h-5.2zM250.6 195.3l2.6 4.3h-5.2zM252.2 195.3l2.6 4.3h-5.2zM262.8 195.3l2.6 4.3h-5.2zM264.4 195.3l2.6 4.3h-5.2zM242 190.3l2.6 4.3h-5.2zM243.3 190.3l2.6 4.3h-5.2zM240 186.7l2.6 4.3h-5.2zM242 186.7l2.6 4.3h-5.2zM244.5 186.7l2.6 4.3h-5.2zM246.9 186.7l2.6 4.3h-5.2zM262.5 186.7l2.6 4.3h-5.2zM266.3 186.7l2.6 4.3h-5.2zM272.4 203.9l2.6 4.3h-5.2zM276.1 203.9l2.6 4.3h-5.2zM275.9 195.3l2.6 4.3h-5.2zM276.3 190.3l2.6 4.3h-5.2zM276.2 186.7l2.6 4.3h-5.2zM276.2 183.9l2.6 4.3h-5.2zM276.6 181.7l2.6 4.3h-5.2zM276.5 179.8l2.6 4.3h-5.2zM276.4 178.1l2.6 4.3h-5.2zM276.4 176.7l2.6 4.3h-5.2zM276.4 175.3l2.6 4.3h-5.2zM276.5 173.1l2.6 4.3h-5.2zM276.7 171.2l2.6 4.3h-5.2zM276.7 168.8l2.6 4.3h-5.2zM276.8 166.7l2.6 4.3h-5.2zM276.7 157.2l2.6 4.3h-5.2zM315.9 138.6l2.6 4.3h-5.2zM316.2 135.9l2.6 4.3h-5.2zM316.6 134.4l2.6 4.3h-5.2zM317 132.3l2.6 4.3h-5.2zM317.3 131l2.6 4.3h-5.2zM317.7 128.4l2.6 4.3h-5.2zM318 126.4l2.6 4.3h-5.2zM318.4 124.6l2.6 4.3h-5.2zM318.7 122.5l2.6 4.3h-5.2zM319.1 121.3l2.6 4.3h-5.2zM319.4 120.3l2.6 4.3h-5.2zM319.8 120.1l2.6 4.3h-5.2zM320.1 118.7l2.6 4.3h-5.2zM320.5 118.2l2.6 4.3h-5.2zM320.8 118.4l2.6 4.3h-5.2zM321.2 117.9l2.6 4.3h-5.2zM321.5 117.1l2.6 4.3h-5.2zM321.9 117.1l2.6 4.3h-5.2zM322.2 117.2l2.6 4.3h-5.2zM322.6 116.6l2.6 4.3h-5.2zM322.9 116.4l2.6 4.3h-5.2zM323.3 116.5l2.6 4.3h-5.2zM323.6 115.9l2.6 4.3h-5.2zM324 114.6l2.6 4.3h-5.2zM324.3 113.9l2.6 4.3h-5.2zM324.7 113.2l2.6 4.3h-5.2zM325 113.6l2.6 4.3h-5.2zM325.4 114.9l2.6 4.3h-5.2zM325.7 116l2.6 4.3h-5.2zM326.1 117.2l2.6 4.3h-5.2zM326.4 117.1l2.6 4.3h-5.2zM326.8 118l2.6 4.3h-5.2zM327.1 118.5l2.6 4.3h-5.2zM327.5 119.7l2.6 4.3h-5.2zM327.8 120.4l2.6 4.3h-5.2zM328.2 121l2.6 4.3h-5.2zM328.5 123.4l2.6 4.3h-5.2zM328.9 124.9l2.6 4.3h-5.2zM329.2 130.1l2.6 4.3h-5.2zM329.6 134.4l2.6 4.3h-5.2zM329.9 137.6l2.6 4.3h-5.2zM323.9 115.5l2.6 4.3h-5.2zM325.6 115.5l2.6 4.3h-5.2zM322.7 116.4l2.6 4.3h-5.2zM325.9 116.4l2.6 4.3h-5.2zM321.5 117.3l2.6 4.3h-5.2zM326.2 117.3l2.6 4.3h-5.2zM320.4 118.2l2.6 4.3h-5.2zM327 118.2l2.6 4.3h-5.2zM320 119.1l2.6 4.3h-5.2zM327.4 119.1l2.6 4.3h-5.2zM319.8 120l2.6 4.3h-5.2zM327.7 120l2.6 4.3h-5.2zM319.2 120.9l2.6 4.3h-5.2zM328 120.9l2.6 4.3h-5.2zM319.1 121.8l2.6 4.3h-5.2zM328.3 121.8l2.6 4.3h-5.2zM319 122.7l2.6 4.3h-5.2zM328.3 122.7l2.6 4.3h-5.2zM318.6 123.6l2.6 4.3h-5.2zM328.4 123.6l2.6 4.3h-5.2zM318.4 124.5l2.6 4.3h-5.2zM328.9 124.5l2.6 4.3h-5.2zM318.3 125.4l2.6 4.3h-5.2zM329 125.4l2.6 4.3h-5.2zM318 126.3l2.6 4.3h-5.2zM328.9 126.3l2.6 4.3h-5.2zM318.2 127.2l2.6 4.3h-5.2zM329 127.2l2.6 4.3h-5.2zM317.9 128.1l2.6 4.3h-5.2zM328.7 128.1l2.6 4.3h-5.2zM317.9 129l2.6 4.3h-5.2zM328.8 129l2.6 4.3h-5.2zM317.7 129.9l2.6 4.3h-5.2zM329 129.9l2.6 4.3h-5.2zM317.4 130.8l2.6 4.3h-5.2zM329 130.8l2.6 4.3h-5.2zM317.2 131.7l2.6 4.3h-5.2zM329.2 131.7l2.6 4.3h-5.2zM316.9 132.6l2.6 4.3h-5.2zM329.4 132.6l2.6 4.3h-5.2zM316.8 133.5l2.6 4.3h-5.2zM329.2 133.5l2.6 4.3h-5.2zM316.7 134.4l2.6 4.3h-5.2zM329.6 134.4l2.6 4.3h-5.2zM316.6 135.3l2.6 4.3h-5.2zM329.7 135.3l2.6 4.3h-5.2zM316.5 136.2l2.6 4.3h-5.2zM329.5 136.2l2.6 4.3h-5.2zM316.3 137.1l2.6 4.3h-5.2zM329.6 137.1l2.6 4.3h-5.2zM316.3 138l2.6 4.3h-5.2zM329.7 138l2.6 4.3h-5.2zM315.9 138.9l2.6 4.3h-5.2zM329.5 138.9l2.6 4.3h-5.2zM316 139.8l2.6 4.3h-5.2zM329.6 139.8l2.6 4.3h-5.2zM316.1 140.7l2.6 4.3h-5.2zM329.8 140.7l2.6 4.3h-5.2zM316.3 141.6l2.6 4.3h-5.2zM329.5 141.6l2.6 4.3h-5.2zM315.9 142.5l2.6 4.3h-5.2zM329.5 142.5l2.6 4.3h-5.2zM316.1 143.4l2.6 4.3h-5.2zM329.5 143.4l2.6 4.3h-5.2zM316.2 144.3l2.6 4.3h-5.2zM329.4 144.3l2.6 4.3h-5.2zM315.9 145.2l2.6 4.3h-5.2zM329.4 145.2l2.6 4.3h-5.2zM316.1 146.1l2.6 4.3h-5.2zM329.8 146.1l2.6 4.3h-5.2zM316 147l2.6 4.3h-5.2zM329.7 147l2.6 4.3h-5.2zM316.3 147.9l2.6 4.3h-5.2zM329.7 147.9l2.6 4.3h-5.2zM315.9 148.8l2.6 4.3h-5.2zM329.6 148.8l2.6 4.3h-5.2zM316.1 149.7l2.6 4.3h-5.2zM329.6 149.7l2.6 4.3h-5.2zM315.9 150.6l2.6 4.3h-5.2zM329.6 150.6l2.6 4.3h-5.2zM316.3 151.5l2.6 4.3h-5.2zM329.9 151.5l2.6 4.3h-5.2zM316.1 152.4l2.6 4.3h-5.2zM329.9 152.4l2.6 4.3h-5.2zM316.1 153.3l2.6 4.3h-5.2zM329.9 153.3l2.6 4.3h-5.2zM316.3 154.2l2.6 4.3h-5.2zM329.9 154.2l2.6 4.3h-5.2zM316.2 155.1l2.6 4.3h-5.2zM329.7 155.1l2.6 4.3h-5.2zM316 156l2.6 4.3h-5.2zM329.9 156l2.6 4.3h-5.2zM316.3 156.9l2.6 4.3h-5.2zM330 156.9l2.6 4.3h-5.2zM312 170.3l2.6 4.3h-5.2zM312 174.2l2.6 4.3h-5.2zM312.1 186.7l2.6 4.3h-5.2zM312.1 176.7l2.6 4.3h-5.2zM312.1 163l2.6 4.3h-5.2zM312.1 186.7l2.6 4.3h-5.2zM312.1 195.3l2.6 4.3h-5.2zM312.2 195.3l2.6 4.3h-5.2zM312.2 181.7l2.6 4.3h-5.2zM312.2 173.1l2.6 4.3h-5.2zM312.2 157.5l2.6 4.3h-5.2zM312.2 183.9l2.6 4.3h-5.2zM312.3 190.3l2.6 4.3h-5.2zM312.3 179.8l2.6 4.3h-5.2zM312.3 203.9l2.6 4.3h-5.2zM312.3 167.4l2.6 4.3h-5.2zM312.3 203.9l2.6 4.3h-5.2zM312.4 195.3l2.6 4.3h-5.2zM312.4 203.9l2.6 4.3h-5.2zM312.4 203.9l2.6 4.3h-5.2zM312.4 169.5l2.6 4.3h-5.2zM312.4 203.9l2.6 4.3h-5.2zM312.5 178.1l2.6 4.3h-5.2zM312.5 195.3l2.6 4.3h-5.2zM312.5 203.9l2.6 4.3h-5.2zM312.5 186.7l2.6 4.3h-5.2zM312.5 186.7l2.6 4.3h-5.2zM312.6 160.7l2.6 4.3h-5.2zM312.6 186.7l2.6 4.3h-5.2zM312.6 169.5l2.6 4.3h-5.2zM312.6 178.1l2.6 4.3h-5.2zM312.6 176.7l2.6 4.3h-5.2zM312.7 203.9l2.6 4.3h-5.2zM312.7 190.3l2.6 4.3h-5.2zM312.7 195.3l2.6 4.3h-5.2zM312.7 166.1l2.6 4.3h-5.2zM312.7 173.1l2.6 4.3h-5.2zM312.7 203.9l2.6 4.3h-5.2zM312.8 163.5l2.6 4.3h-5.2zM312.8 203.9l2.6 4.3h-5.2zM312.8 179.8l2.6 4.3h-5.2zM312.8 178.1l2.6 4.3h-5.2zM312.8 183.9l2.6 4.3h-5.2zM312.9 179.8l2.6 4.3h-5.2zM312.9 181.7l2.6 4.3h-5.2zM312.9 179.8l2.6 4.3h-5.2zM312.9 195.3l2.6 4.3h-5.2zM312.9 171.2l2.6 4.3h-5.2zM313 165.6l2.6 4.3h-5.2zM313 179.8l2.6 4.3h-5.2zM313 161.6l2.6 4.3h-5.2zM313 179.8l2.6 4.3h-5.2zM313 183.9l2.6 4.3h-5.2zM313.1 195.3l2.6 4.3h-5.2zM313.1 162.6l2.6 4.3h-5.2zM313.1 178.1l2.6 4.3h-5.2zM313.1 195.3l2.6 4.3h-5.2zM313.1 175.3l2.6 4.3h-5.2zM313.2 203.9l2.6 4.3h-5.2zM313.2 195.3l2.6 4.3h-5.2zM313.2 159.2l2.6 4.3h-5.2zM313.2 176.7l2.6 4.3h-5.2zM313.2 195.3l2.6 4.3h-5.2zM313.3 183.9l2.6 4.3h-5.2zM313.3 190.3l2.6 4.3h-5.2zM313.3 203.9l2.6 4.3h-5.2zM313.3 190.3l2.6 4.3h-5.2zM313.3 186.7l2.6 4.3h-5.2zM313.4 203.9l2.6 4.3h-5.2zM313.4 179.8l2.6 4.3h-5.2zM313.4 157.5l2.6 4.3h-5.2zM313.4 171.2l2.6 4.3h-5.2zM313.4 186.7l2.6 4.3h-5.2zM313.5 203.9l2.6 4.3h-5.2zM313.5 190.3l2.6 4.3h-5.2zM313.5 172.1l2.6 4.3h-5.2zM313.5 203.9l2.6 4.3h-5.2zM313.5 178.1l2.6 4.3h-5.2zM313.5 168.8l2.6 4.3h-5.2zM313.6 186.7l2.6 4.3h-5.2zM313.6 175.3l2.6 4.3h-5.2zM313.6 163l2.6 4.3h-5.2zM313.6 195.3l2.6 4.3h-5.2zM313.6 195.3l2.6 4.3h-5.2zM313.7 203.9l2.6 4.3h-5.2zM313.7 164l2.6 4.3h-5.2zM313.7 203.9l2.6 4.3h-5.2zM313.7 195.3l2.6 4.3h-5.2zM313.7 170.3l2.6 4.3h-5.2zM313.8 181.7l2.6 4.3h-5.2zM313.8 190.3l2.6 4.3h-5.2zM313.8 173.1l2.6 4.3h-5.2zM313.8 162.6l2.6 4.3h-5.2zM313.8 203.9l2.6 4.3h-5.2zM313.9 165.6l2.6 4.3h-5.2zM313.9 181.7l2.6 4.3h-5.2zM313.9 179.8l2.6 4.3h-5.2zM313.9 203.9l2.6 4.3h-5.2zM313.9 186.7l2.6 4.3h-5.2zM314 179.8l2.6 4.3h-5.2zM314 203.9l2.6 4.3h-5.2zM314 175.3l2.6 4.3h-5.2zM314 195.3l2.6 4.3h-5.2zM314 169.5l2.6 4.3h-5.2zM314 195.3l2.6 4.3h-5.2zM314.1 195.3l2.6 4.3h-5.2zM314.1 203.9l2.6 4.3h-5.2zM314.1 181.7l2.6 4.3h-5.2zM314.1 168.8l2.6 4.3h-5.2zM314.1 190.3l2.6 4.3h-5.2zM314.2 203.9l2.6 4.3h-5.2zM314.2 173.1l2.6 4.3h-5.2zM314.2 158.1l2.6 4.3h-5.2zM314.2 166.7l2.6 4.3h-5.2zM314.2 203.9l2.6 4.3h-5.2zM314.3 157.3l2.6 4.3h-5.2zM314.3 159.8l2.6 4.3h-5.2zM314.3 162.1l2.6 4.3h-5.2zM314.3 203.9l2.6 4.3h-5.2zM314.3 176.7l2.6 4.3h-5.2zM314.3 195.3l2.6 4.3h-5.2zM314.4 195.3l2.6 4.3h-5.2zM314.4 179.8l2.6 4.3h-5.2zM314.4 195.3l2.6 4.3h-5.2zM314.4 181.7l2.6 4.3h-5.2zM314.4 186.7l2.6 4.3h-5.2zM314.5 173.1l2.6 4.3h-5.2zM314.5 157.1l2.6 4.3h-5.2zM314.5 186.7l2.6 4.3h-5.2zM314.5 171.2l2.6 4.3h-5.2zM314.5 171.2l2.6 4.3h-5.2zM314.6 203.9l2.6 4.3h-5.2zM314.6 176.7l2.6 4.3h-5.2zM314.6 162.6l2.6 4.3h-5.2zM314.6 190.3l2.6 4.3h-5.2zM314.6 186.7l2.6 4.3h-5.2zM314.6 160l2.6 4.3h-5.2zM314.7 175.3l2.6 4.3h-5.2zM314.7 190.3l2.6 4.3h-5.2zM314.7 172.1l2.6 4.3h-5.2zM314.7 203.9l2.6 4.3h-5.2zM314.7 203.9l2.6 4.3h-5.2zM314.8 183.9l2.6 4.3h-5.2zM314.8 203.9l2.6 4.3h-5.2zM314.8 158.8l2.6 4.3h-5.2zM314.8 168.8l2.6 4.3h-5.2zM314.8 203.9l2.6 4.3h-5.2zM314.9 183.9l2.6 4.3h-5.2zM314.9 166.1l2.6 4.3h-5.2zM314.9 186.7l2.6 4.3h-5.2zM314.9 195.3l2.6 4.3h-5.2zM314.9 190.3l2.6 4.3h-5.2zM314.9 159.4l2.6 4.3h-5.2zM315 158.9l2.6 4.3h-5.2zM315 178.1l2.6 4.3h-5.2zM315 157.9l2.6 4.3h-5.2zM315 161.4l2.6 4.3h-5.2zM315 190.3l2.6 4.3h-5.2zM315.1 179.8l2.6 4.3h-5.2zM315.1 161.5l2.6 4.3h-5.2zM315.1 203.9l2.6 4.3h-5.2zM315.1 176.7l2.6 4.3h-5.2zM315.1 203.9l2.6 4.3h-5.2zM315.1 190.3l2.6 4.3h-5.2zM315.2 190.3l2.6 4.3h-5.2zM315.2 179.8l2.6 4.3h-5.2zM315.2 190.3l2.6 4.3h-5.2zM315.2 169.5l2.6 4.3h-5.2zM315.2 170.3l2.6 4.3h-5.2zM315.3 203.9l2.6 4.3h-5.2zM315.3 167.4l2.6 4.3h-5.2zM315.3 176.7l2.6 4.3h-5.2zM315.3 195.3l2.6 4.3h-5.2zM315.3 174.2l2.6 4.3h-5.2zM315.3 176.7l2.6 4.3h-5.2zM315.4 203.9l2.6 4.3h-5.2zM315.4 168.1l2.6 4.3h-5.2zM315.4 169.5l2.6 4.3h-5.2zM315.4 203.9l2.6 4.3h-5.2zM315.4 171.2l2.6 4.3h-5.2zM315.5 174.2l2.6 4.3h-5.2zM315.5 203.9l2.6 4.3h-5.2zM315.5 174.2l2.6 4.3h-5.2zM315.5 203.9l2.6 4.3h-5.2zM315.5 203.9l2.6 4.3h-5.2zM315.5 203.9l2.6 4.3h-5.2zM315.6 168.8l2.6 4.3h-5.2zM315.6 168.1l2.6 4.3h-5.2zM315.6 195.3l2.6 4.3h-5.2zM315.6 203.9l2.6 4.3h-5.2zM315.6 168.8l2.6 4.3h-5.2zM315.7 168.1l2.6 4.3h-5.2zM315.7 169.5l2.6 4.3h-5.2zM315.7 164.5l2.6 4.3h-5.2zM315.7 179.8l2.6 4.3h-5.2zM315.7 183.9l2.6 4.3h-5.2zM315.7 190.3l2.6 4.3h-5.2zM315.8 159.9l2.6 4.3h-5.2zM315.8 167.4l2.6 4.3h-5.2zM315.8 163l2.6 4.3h-5.2zM315.8 171.2l2.6 4.3h-5.2zM315.8 166.7l2.6 4.3h-5.2zM315.9 203.9l2.6 4.3h-5.2zM315.9 176.7l2.6 4.3h-5.2zM315.9 164.5l2.6 4.3h-5.2zM315.9 150.8l2.6 4.3h-5.2zM315.9 156.5l2.6 4.3h-5.2zM315.9 153.1l2.6 4.3h-5.2zM316 150.3l2.6 4.3h-5.2zM316 145.1l2.6 4.3h-5.2zM316 145.4l2.6 4.3h-5.2zM316 143.4l2.6 4.3h-5.2zM316 153.2l2.6 4.3h-5.2zM316.1 153.1l2.6 4.3h-5.2zM316.1 146.8l2.6 4.3h-5.2zM316.1 154.2l2.6 4.3h-5.2zM316.1 149.9l2.6 4.3h-5.2zM316.1 150.6l2.6 4.3h-5.2zM316.1 141.9l2.6 4.3h-5.2zM316.2 141.3l2.6 4.3h-5.2zM316.2 140.8l2.6 4.3h-5.2zM316.2 155.2l2.6 4.3h-5.2zM316.2 152.8l2.6 4.3h-5.2zM316.2 154.8l2.6 4.3h-5.2zM316.2 153.2l2.6 4.3h-5.2zM316.3 152.8l2.6 4.3h-5.2zM316.3 144.7l2.6 4.3h-5.2zM316.3 151.8l2.6 4.3h-5.2zM316.3 138.6l2.6 4.3h-5.2zM316.3 149.4l2.6 4.3h-5.2zM316.4 135.7l2.6 4.3h-5.2zM316.4 156.2l2.6 4.3h-5.2zM316.4 154.3l2.6 4.3h-5.2zM316.4 138.2l2.6 4.3h-5.2zM316.4 151.8l2.6 4.3h-5.2zM316.4 153l2.6 4.3h-5.2zM316.5 135.2l2.6 4.3h-5.2zM316.5 147.1l2.6 4.3h-5.2zM316.5 143.7l2.6 4.3h-5.2zM316.5 148.2l2.6 4.3h-5.2zM316.5 154.4l2.6 4.3h-5.2zM316.5 150.6l2.6 4.3h-5.2zM316.6 138.7l2.6 4.3h-5.2zM316.6 146.6l2.6 4.3h-5.2zM316.6 146.8l2.6 4.3h-5.2zM316.6 133.8l2.6 4.3h-5.2zM316.6 136.6l2.6 4.3h-5.2zM316.7 141.9l2.6 4.3h-5.2zM316.7 137.5l2.6 4.3h-5.2zM316.7 138.9l2.6 4.3h-5.2zM316.7 149.3l2.6 4.3h-5.2zM316.7 156.1l2.6 4.3h-5.2zM316.7 144l2.6 4.3h-5.2zM316.8 148.5l2.6 4.3h-5.2zM316.8 151.2l2.6 4.3h-5.2zM316.8 149.1l2.6 4.3h-5.2zM316.8 148.6l2.6 4.3h-5.2zM316.8 132.6l2.6 4.3h-5.2zM316.8 153.8l2.6 4.3h-5.2zM316.9 136.4l2.6 4.3h-5.2zM316.9 136.8l2.6 4.3h-5.2zM316.9 144.9l2.6 4.3h-5.2zM316.9 146.7l2.6 4.3h-5.2zM316.9 150.9l2.6 4.3h-5.2zM316.9 139.3l2.6 4.3h-5.2zM317 155.6l2.6 4.3h-5.2zM317 147.6l2.6 4.3h-5.2zM317 153.1l2.6 4.3h-5.2zM317 143.8l2.6 4.3h-5.2zM317 133.4l2.6 4.3h-5.2zM317.1 131.8l2.6 4.3h-5.2zM317.1 147.8l2.6 4.3h-5.2zM317.1 142.3l2.6 4.3h-5.2zM317.1 142.6l2.6 4.3h-5.2zM317.1 139.6l2.6 4.3h-5.2zM317.1 135.7l2.6 4.3h-5.2zM317.2 143.3l2.6 4.3h-5.2zM317.2 137.6l2.6 4.3h-5.2zM317.2 154.2l2.6 4.3h-5.2zM317.2 135.5l2.6 4.3h-5.2zM317.2 156.2l2.6 4.3h-5.2zM317.2 153.3l2.6 4.3h-5.2zM317.3 140.7l2.6 4.3h-5.2zM317.3 151l2.6 4.3h-5.2zM317.3 145.8l2.6 4.3h-5.2zM317.3 142.7l2.6 4.3h-5.2zM317.3 152l2.6 4.3h-5.2zM317.3 152.5l2.6 4.3h-5.2zM317.4 135.5l2.6 4.3h-5.2zM317.4 154.5l2.6 4.3h-5.2zM317.4 130.8l2.6 4.3h-5.2zM317.4 130l2.6 4.3h-5.2zM317.4 142.9l2.6 4.3h-5.2zM317.4 137.9l2.6 4.3h-5.2zM317.5 141.1l2.6 4.3h-5.2zM317.5 142.6l2.6 4.3h-5.2zM317.5 142.3l2.6 4.3h-5.2zM317.5 154.4l2.6 4.3h-5.2zM317.5 154.7l2.6 4.3h-5.2zM317.5 138.7l2.6 4.3h-5.2zM317.6 137l2.6 4.3h-5.2zM317.6 147.2l2.6 4.3h-5.2zM317.6 134.3l2.6 4.3h-5.2zM317.6 139.9l2.6 4.3h-5.2zM317.6 148.9l2.6 4.3h-5.2zM317.7 128.5l2.6 4.3h-5.2zM317.7 150.4l2.6 4.3h-5.2zM317.7 149.3l2.6 4.3h-5.2zM317.7 139.2l2.6 4.3h-5.2zM317.7 135.1l2.6 4.3h-5.2zM317.7 143.6l2.6 4.3h-5.2zM317.8 136.4l2.6 4.3h-5.2zM317.8 151.7l2.6 4.3h-5.2zM317.8 144.9l2.6 4.3h-5.2zM317.8 136.5l2.6 4.3h-5.2zM317.8 151.3l2.6 4.3h-5.2zM317.8 145.3l2.6 4.3h-5.2zM317.9 131l2.6 4.3h-5.2zM317.9 139.4l2.6 4.3h-5.2zM317.9 141.6l2.6 4.3h-5.2zM317.9 155.3l2.6 4.3h-5.2zM317.9 136.4l2.6 4.3h-5.2zM317.9 140.2l2.6 4.3h-5.2zM318 156.3l2.6 4.3h-5.2zM318 139.4l2.6 4.3h-5.2zM318 151.7l2.6 4.3h-5.2zM318 129.1l2.6 4.3h-5.2zM318 138.2l2.6 4.3h-5.2zM318 131.6l2.6 4.3h-5.2zM318.1 153.4l2.6 4.3h-5.2zM318.1 143l2.6 4.3h-5.2zM318.1 132.5l2.6 4.3h-5.2zM318.1 128.4l2.6 4.3h-5.2zM318.1 138.7l2.6 4.3h-5.2zM318.1 128.3l2.6 4.3h-5.2zM318.2 140.6l2.6 4.3h-5.2zM318.2 148.3l2.6 4.3h-5.2zM318.2 134.9l2.6 4.3h-5.2zM318.2 130.3l2.6 4.3h-5.2zM318.2 136.4l2.6 4.3h-5.2zM318.2 130.1l2.6 4.3h-5.2zM318.3 151.9l2.6 4.3h-5.2zM318.3 127.7l2.6 4.3h-5.2zM318.3 148.6l2.6 4.3h-5.2zM318.3 135.3l2.6 4.3h-5.2zM318.3 148.1l2.6 4.3h-5.2zM318.3 149.5l2.6 4.3h-5.2zM318.4 128.6l2.6 4.3h-5.2zM318.4 149l2.6 4.3h-5.2zM318.4 155.2l2.6 4.3h-5.2zM318.4 142.7l2.6 4.3h-5.2zM318.4 145.2l2.6 4.3h-5.2zM318.4 134.5l2.6 4.3h-5.2zM318.5 129.5l2.6 4.3h-5.2zM318.5 148.5l2.6 4.3h-5.2zM318.5 151l2.6 4.3h-5.2zM318.5 130.3l2.6 4.3h-5.2zM318.5 127.2l2.6 4.3h-5.2zM318.5 135.1l2.6 4.3h-5.2zM318.6 144.4l2.6 4.3h-5.2zM318.6 135.5l2.6 4.3h-5.2zM318.6 155.8l2.6 4.3h-5.2zM318.6 149.9l2.6 4.3h-5.2zM318.6 154.1l2.6 4.3h-5.2zM318.6 143.3l2.6 4.3h-5.2zM318.7 148.6l2.6 4.3h-5.2zM318.7 155.3l2.6 4.3h-5.2zM318.7 123.8l2.6 4.3h-5.2zM318.7 142.3l2.6 4.3h-5.2zM318.7 128.9l2.6 4.3h-5.2zM318.7 149.9l2.6 4.3h-5.2zM318.8 130.3l2.6 4.3h-5.2zM318.8 148l2.6 4.3h-5.2zM318.8 133.7l2.6 4.3h-5.2zM318.8 144.8l2.6 4.3h-5.2zM318.8 145.7l2.6 4.3h-5.2zM318.8 153.8l2.6 4.3h-5.2zM318.8 152.5l2.6 4.3h-5.2zM318.9 137.1l2.6 4.3h-5.2zM318.9 146l2.6 4.3h-5.2zM318.9 128l2.6 4.3h-5.2zM318.9 124.9l2.6 4.3h-5.2zM318.9 146.8l2.6 4.3h-5.2zM318.9 153.7l2.6 4.3h-5.2zM319 147.9l2.6 4.3h-5.2zM319 139.7l2.6 4.3h-5.2zM319 143.7l2.6 4.3h-5.2zM319 147.3l2.6 4.3h-5.2zM319 141.5l2.6 4.3h-5.2zM319 134l2.6 4.3h-5.2zM319.1 151.6l2.6 4.3h-5.2zM319.1 134.2l2.6 4.3h-5.2zM319.1 153.5l2.6 4.3h-5.2zM319.1 149.7l2.6 4.3h-5.2zM319.1 149.5l2.6 4.3h-5.2zM319.1 151l2.6 4.3h-5.2zM319.2 156.5l2.6 4.3h-5.2zM319.2 156.6l2.6 4.3h-5.2zM319.2 138.8l2.6 4.3h-5.2zM319.2 134.3l2.6 4.3h-5.2zM319.2 147.3l2.6 4.3h-5.2zM319.2 155.8l2.6 4.3h-5.2zM319.3 143.5l2.6 4.3h-5.2zM319.3 121.3l2.6 4.3h-5.2zM319.3 121.7l2.6 4.3h-5.2zM319.3 137.3l2.6 4.3h-5.2zM319.3 149.2l2.6 4.3h-5.2zM319.3 152.9l2.6 4.3h-5.2zM319.4 134l2.6 4.3h-5.2zM319.4 139.2l2.6 4.3h-5.2zM319.4 139l2.6 4.3h-5.2zM319.4 123.5l2.6 4.3h-5.2zM319.4 120l2.6 4.3h-5.2zM319.4 139.4l2.6 4.3h-5.2zM319.4 138.6l2.6 4.3h-5.2zM319.5 151.9l2.6 4.3h-5.2zM319.5 126.6l2.6 4.3h-5.2zM319.5 151.5l2.6 4.3h-5.2zM319.5 129.9l2.6 4.3h-5.2zM319.5 139.8l2.6 4.3h-5.2zM319.5 146.1l2.6 4.3h-5.2zM319.6 125.1l2.6 4.3h-5.2zM319.6 155l2.6 4.3h-5.2zM319.6 155.4l2.6 4.3h-5.2zM319.6 155.9l2.6 4.3h-5.2zM319.6 119.6l2.6 4.3h-5.2zM319.6 143.6l2.6 4.3h-5.2zM319.7 144.6l2.6 4.3h-5.2zM319.7 152.5l2.6 4.3h-5.2zM319.7 126.9l2.6 4.3h-5.2zM319.7 124l2.6 4.3h-5.2zM319.7 149.8l2.6 4.3h-5.2zM319.7 129.1l2.6 4.3h-5.2zM319.8 121.7l2.6 4.3h-5.2zM319.8 122.6l2.6 4.3h-5.2zM319.8 143.6l2.6 4.3h-5.2zM319.8 139.4l2.6 4.3h-5.2zM319.8 147.4l2.6 4.3h-5.2zM319.8 149.7l2.6 4.3h-5.2zM319.8 119.1l2.6 4.3h-5.2zM319.9 154.4l2.6 4.3h-5.2zM319.9 152.4l2.6 4.3h-5.2zM319.9 154.4l2.6 4.3h-5.2zM319.9 148.2l2.6 4.3h-5.2zM319.9 133.5l2.6 4.3h-5.2zM319.9 128.2l2.6 4.3h-5.2zM320 153.6l2.6 4.3h-5.2zM320 134.8l2.6 4.3h-5.2zM320 137.4l2.6 4.3h-5.2zM320 145.4l2.6 4.3h-5.2zM320 145l2.6 4.3h-5.2zM320 145.2l2.6 4.3h-5.2zM320.1 142.5l2.6 4.3h-5.2zM320.1 138.1l2.6 4.3h-5.2zM320.1 148l2.6 4.3h-5.2zM320.1 133.7l2.6 4.3h-5.2zM320.1 128.5l2.6 4.3h-5.2zM320.1 153.5l2.6 4.3h-5.2zM320.1 151l2.6 4.3h-5.2zM320.2 146.1l2.6 4.3h-5.2zM320.2 124.7l2.6 4.3h-5.2zM320.2 119.9l2.6 4.3h-5.2zM320.2 154l2.6 4.3h-5.2zM320.2 154.8l2.6 4.3h-5.2zM320.2 128.7l2.6 4.3h-5.2zM320.3 142.6l2.6 4.3h-5.2zM320.3 118.7l2.6 4.3h-5.2zM320.3 133.3l2.6 4.3h-5.2zM320.3 145.4l2.6 4.3h-5.2zM320.3 132l2.6 4.3h-5.2zM320.3 149.5l2.6 4.3h-5.2zM320.3 153.6l2.6 4.3h-5.2zM320.4 123.2l2.6 4.3h-5.2zM320.4 144.8l2.6 4.3h-5.2zM320.4 132.6l2.6 4.3h-5.2zM320.4 124.7l2.6 4.3h-5.2zM320.4 131.5l2.6 4.3h-5.2zM320.4 136.7l2.6 4.3h-5.2zM320.5 152.9l2.6 4.3h-5.2zM320.5 147.8l2.6 4.3h-5.2zM320.5 118l2.6 4.3h-5.2zM320.5 120l2.6 4.3h-5.2zM320.5 156.8l2.6 4.3h-5.2zM320.5 139.6l2.6 4.3h-5.2zM320.6 141.7l2.6 4.3h-5.2zM320.6 131.6l2.6 4.3h-5.2zM320.6 150.4l2.6 4.3h-5.2zM320.6 139.6l2.6 4.3h-5.2zM320.6 141l2.6 4.3h-5.2zM320.6 127.5l2.6 4.3h-5.2zM320.6 148.2l2.6 4.3h-5.2zM320.7 126.1l2.6 4.3h-5.2zM320.7 123l2.6 4.3h-5.2zM320.7 141.1l2.6 4.3h-5.2zM320.7 150.4l2.6 4.3h-5.2zM320.7 129.2l2.6 4.3h-5.2zM320.7 129.5l2.6 4.3h-5.2zM320.8 123.5l2.6 4.3h-5.2zM320.8 141.4l2.6 4.3h-5.2zM320.8 148l2.6 4.3h-5.2zM320.8 122.5l2.6 4.3h-5.2zM320.8 138.7l2.6 4.3h-5.2zM320.8 138.8l2.6 4.3h-5.2zM320.8 121.7l2.6 4.3h-5.2zM320.9 138.5l2.6 4.3h-5.2zM320.9 128.2l2.6 4.3h-5.2zM320.9 125.4l2.6 4.3h-5.2zM320.9 156.4l2.6 4.3h-5.2zM320.9 121l2.6 4.3h-5.2zM320.9 131l2.6 4.3h-5.2zM321 141.9l2.6 4.3h-5.2zM321 133.5l2.6 4.3h-5.2zM321 118.1l2.6 4.3h-5.2zM321 151.7l2.6 4.3h-5.2zM321 126.9l2.6 4.3h-5.2zM321 133.7l2.6 4.3h-5.2zM321 153.4l2.6 4.3h-5.2zM321.1 155.8l2.6 4.3h-5.2zM321.1 153.6l2.6 4.3h-5.2zM321.1 133.7l2.6 4.3h-5.2zM321.1 146.9l2.6 4.3h-5.2zM321.1 151l2.6 4.3h-5.2zM321.1 125.2l2.6 4.3h-5.2zM321.1 155.8l2.6 4.3h-5.2zM321.2 121.3l2.6 4.3h-5.2zM321.2 143.4l2.6 4.3h-5.2zM321.2 126.8l2.6 4.3h-5.2zM321.2 125.8l2.6 4.3h-5.2zM321.2 122.7l2.6 4.3h-5.2zM321.2 154.7l2.6 4.3h-5.2zM321.3 122.3l2.6 4.3h-5.2zM321.3 153.5l2.6 4.3h-5.2zM321.3 123.8l2.6 4.3h-5.2zM321.3 130.3l2.6 4.3h-5.2zM321.3 125.6l2.6 4.3h-5.2zM321.3 156.5l2.6 4.3h-5.2zM321.3 120.9l2.6 4.3h-5.2zM321.4 151.5l2.6 4.3h-5.2zM321.4 129.1l2.6 4.3h-5.2zM321.4 155.1l2.6 4.3h-5.2zM321.4 147l2.6 4.3h-5.2zM321.4 127.6l2.6 4.3h-5.2zM321.4 137.5l2.6 4.3h-5.2zM321.5 123.5l2.6 4.3h-5.2zM321.5 133.3l2.6 4.3h-5.2zM321.5 118.1l2.6 4.3h-5.2zM321.5 144.3l2.6 4.3h-5.2zM321.5 140.8l2.6 4.3h-5.2zM321.5 127.9l2.6 4.3h-5.2zM321.5 117.6l2.6 4.3h-5.2zM321.6 154.6l2.6 4.3h-5.2zM321.6 122l2.6 4.3h-5.2zM321.6 130.1l2.6 4.3h-5.2zM321.6 118l2.6 4.3h-5.2zM321.6 132.3l2.6 4.3h-5.2zM321.6 133.1l2.6 4.3h-5.2zM321.6 138.3l2.6 4.3h-5.2zM321.7 129.9l2.6 4.3h-5.2zM321.7 127l2.6 4.3h-5.2zM321.7 148.4l2.6 4.3h-5.2zM321.7 128.1l2.6 4.3h-5.2zM321.7 130.2l2.6 4.3h-5.2zM321.7 136.6l2.6 4.3h-5.2zM321.8 127.9l2.6 4.3h-5.2zM321.8 146l2.6 4.3h-5.2zM321.8 120.3l2.6 4.3h-5.2zM321.8 129.8l2.6 4.3h-5.2zM321.8 133.8l2.6 4.3h-5.2zM321.8 127.2l2.6 4.3h-5.2zM321.8 150.6l2.6 4.3h-5.2zM321.9 131.1l2.6 4.3h-5.2zM321.9 133.7l2.6 4.3h-5.2zM321.9 135.7l2.6 4.3h-5.2zM321.9 150.2l2.6 4.3h-5.2zM321.9 125.6l2.6 4.3h-5.2zM321.9 150.1l2.6 4.3h-5.2zM321.9 154.9l2.6 4.3h-5.2zM322 127.5l2.6 4.3h-5.2zM322 123.6l2.6 4.3h-5.2zM322 148.5l2.6 4.3h-5.2zM322 129.3l2.6 4.3h-5.2zM322 125.9l2.6 4.3h-5.2zM322 119.9l2.6 4.3h-5.2zM322 141.4l2.6 4.3h-5.2zM322.1 154.5l2.6 4.3h-5.2zM322.1 152.2l2.6 4.3h-5.2zM322.1 140.4l2.6 4.3h-5.2zM322.1 134.4l2.6 4.3h-5.2zM322.1 156l2.6 4.3h-5.2zM322.1 143.3l2.6 4.3h-5.2zM322.2 155.2l2.6 4.3h-5.2zM322.2 144.4l2.6 4.3h-5.2zM322.2 144.8l2.6 4.3h-5.2zM322.2 144.9l2.6 4.3h-5.2zM322.2 121.7l2.6 4.3h-5.2zM322.2 126.8l2.6 4.3h-5.2zM322.2 119.2l2.6 4.3h-5.2zM322.3 154.3l2.6 4.3h-5.2zM322.3 156.8l2.6 4.3h-5.2zM322.3 141l2.6 4.3h-5.2zM322.3 122.8l2.6 4.3h-5.2zM322.3 121.5l2.6 4.3h-5.2zM322.3 134.6l2.6 4.3h-5.2zM322.3 132.3l2.6 4.3h-5.2zM322.4 124.4l2.6 4.3h-5.2zM322.4 120.1l2.6 4.3h-5.2zM322.4 142.7l2.6 4.3h-5.2zM322.4 148.6l2.6 4.3h-5.2zM322.4 119l2.6 4.3h-5.2zM322.4 129l2.6 4.3h-5.2zM322.4 128.6l2.6 4.3h-5.2zM322.5 138.4l2.6 4.3h-5.2zM322.5 140.9l2.6 4.3h-5.2zM322.5 133.1l2.6 4.3h-5.2zM322.5 151.6l2.6 4.3h-5.2zM322.5 132.3l2.6 4.3h-5.2zM322.5 128.7l2.6 4.3h-5.2zM322.5 147.5l2.6 4.3h-5.2zM322.6 150.6l2.6 4.3h-5.2zM322.6 152l2.6 4.3h-5.2zM322.6 123.2l2.6 4.3h-5.2zM322.6 124.3l2.6 4.3h-5.2zM322.6 135.1l2.6 4.3h-5.2zM322.6 155.7l2.6 4.3h-5.2zM322.6 141.5l2.6 4.3h-5.2zM322.7 141.7l2.6 4.3h-5.2zM322.7 129.6l2.6 4.3h-5.2zM322.7 156.6l2.6 4.3h-5.2zM322.7 123.7l2.6 4.3h-5.2zM322.7 139l2.6 4.3h-5.2zM322.7 143.7l2.6 4.3h-5.2zM322.8 149.3l2.6 4.3h-5.2zM322.8 149.4l2.6 4.3h-5.2zM322.8 132l2.6 4.3h-5.2zM322.8 127.2l2.6 4.3h-5.2zM322.8 156.2l2.6 4.3h-5.2zM322.8 138.7l2.6 4.3h-5.2zM322.8 127.7l2.6 4.3h-5.2zM322.9 121.8l2.6 4.3h-5.2zM322.9 149l2.6 4.3h-5.2zM322.9 150.8l2.6 4.3h-5.2zM322.9 139.4l2.6 4.3h-5.2zM322.9 131.8l2.6 4.3h-5.2zM322.9 143.1l2.6 4.3h-5.2zM322.9 156.2l2.6 4.3h-5.2zM323 139.7l2.6 4.3h-5.2zM323 148.3l2.6 4.3h-5.2zM323 152.2l2.6 4.3h-5.2zM323 147l2.6 4.3h-5.2zM323 136l2.6 4.3h-5.2zM323 123.3l2.6 4.3h-5.2zM323 144.6l2.6 4.3h-5.2zM323.1 150.1l2.6 4.3h-5.2zM323.1 155.5l2.6 4.3h-5.2zM323.1 122.2l2.6 4.3h-5.2zM323.1 120.6l2.6 4.3h-5.2zM323.1 142.1l2.6 4.3h-5.2zM323.1 149.9l2.6 4.3h-5.2zM323.1 119.1l2.6 4.3h-5.2zM323.2 141.2l2.6 4.3h-5.2zM323.2 126.9l2.6 4.3h-5.2zM323.2 157l2.6 4.3h-5.2zM323.2 130.8l2.6 4.3h-5.2zM323.2 119.3l2.6 4.3h-5.2zM323.2 148.1l2.6 4.3h-5.2zM323.2 128.2l2.6 4.3h-5.2zM323.3 133.1l2.6 4.3h-5.2zM323.3 121.2l2.6 4.3h-5.2zM323.3 129.5l2.6 4.3h-5.2zM323.3 121.3l2.6 4.3h-5.2zM323.3 126.4l2.6 4.3h-5.2zM323.3 139.7l2.6 4.3h-5.2zM323.3 128.1l2.6 4.3h-5.2zM323.4 143.3l2.6 4.3h-5.2zM323.4 152.9l2.6 4.3h-5.2zM323.4 139.5l2.6 4.3h-5.2zM323.4 117l2.6 4.3h-5.2zM323.4 171.2l2.6 4.3h-5.2zM323.4 127.2l2.6 4.3h-5.2zM323.4 135.7l2.6 4.3h-5.2zM323.5 146.1l2.6 4.3h-5.2zM323.5 151.5l2.6 4.3h-5.2zM323.5 135.5l2.6 4.3h-5.2zM323.5 141.2l2.6 4.3h-5.2zM323.5 151.9l2.6 4.3h-5.2zM323.5 142.1l2.6 4.3h-5.2zM323.5 132l2.6 4.3h-5.2zM323.6 139.4l2.6 4.3h-5.2zM323.6 137.8l2.6 4.3h-5.2zM323.6 132.4l2.6 4.3h-5.2zM323.6 150.3l2.6 4.3h-5.2zM323.6 145.2l2.6 4.3h-5.2zM323.6 139.3l2.6 4.3h-5.2zM323.6 156.6l2.6 4.3h-5.2zM323.6 162.6l2.6 4.3h-5.2zM323.7 153l2.6 4.3h-5.2zM323.7 135.1l2.6 4.3h-5.2zM323.7 169.5l2.6 4.3h-5.2zM323.7 121.2l2.6 4.3h-5.2zM323.7 162.1l2.6 4.3h-5.2zM323.7 139.6l2.6 4.3h-5.2zM323.7 138.2l2.6 4.3h-5.2zM323.8 164.5l2.6 4.3h-5.2zM323.8 153.3l2.6 4.3h-5.2zM323.8 172.1l2.6 4.3h-5.2zM323.8 166.1l2.6 4.3h-5.2zM323.8 121.6l2.6 4.3h-5.2zM323.8 144.3l2.6 4.3h-5.2zM323.8 159.8l2.6 4.3h-5.2zM323.9 119.5l2.6 4.3h-5.2zM323.9 146.5l2.6 4.3h-5.2zM323.9 173.1l2.6 4.3h-5.2zM323.9 128.6l2.6 4.3h-5.2zM323.9 121.3l2.6 4.3h-5.2zM323.9 131.5l2.6 4.3h-5.2zM323.9 134.7l2.6 4.3h-5.2zM324 131.2l2.6 4.3h-5.2zM324 139.9l2.6 4.3h-5.2zM324 163.5l2.6 4.3h-5.2zM324 144.9l2.6 4.3h-5.2zM324 149.1l2.6 4.3h-5.2zM324 120.6l2.6 4.3h-5.2zM324 117.9l2.6 4.3h-5.2zM324.1 170.3l2.6 4.3h-5.2zM324.1 134.6l2.6 4.3h-5.2zM324.1 170.3l2.6 4.3h-5.2zM324.1 133.9l2.6 4.3h-5.2zM324.1 152l2.6 4.3h-5.2zM324.1 153.3l2.6 4.3h-5.2zM324.1 119.2l2.6 4.3h-5.2zM324.2 118l2.6 4.3h-5.2zM324.2 140.1l2.6 4.3h-5.2zM324.2 121.3l2.6 4.3h-5.2zM324.2 131.3l2.6 4.3h-5.2zM324.2 125.3l2.6 4.3h-5.2zM324.2 132.3l2.6 4.3h-5.2zM324.2 140.9l2.6 4.3h-5.2zM324.2 132.1l2.6 4.3h-5.2zM324.3 133.6l2.6 4.3h-5.2zM324.3 142.6l2.6 4.3h-5.2zM324.3 154.4l2.6 4.3h-5.2zM324.3 115.8l2.6 4.3h-5.2zM324.3 173.1l2.6 4.3h-5.2zM324.3 139.2l2.6 4.3h-5.2zM324.3 168.8l2.6 4.3h-5.2zM324.4 113.6l2.6 4.3h-5.2zM324.4 116.6l2.6 4.3h-5.2zM324.4 119l2.6 4.3h-5.2zM324.4 168.1l2.6 4.3h-5.2zM324.4 137.9l2.6 4.3h-5.2zM324.4 164l2.6 4.3h-5.2zM324.4 155l2.6 4.3h-5.2zM324.5 118.2l2.6 4.3h-5.2zM324.5 134.8l2.6 4.3h-5.2zM324.5 132.9l2.6 4.3h-5.2zM324.5 140.3l2.6 4.3h-5.2zM324.5 158.5l2.6 4.3h-5.2zM324.5 117.7l2.6 4.3h-5.2zM324.5 168.8l2.6 4.3h-5.2zM324.6 141.6l2.6 4.3h-5.2zM324.6 134.8l2.6 4.3h-5.2zM324.6 155l2.6 4.3h-5.2zM324.6 129.3l2.6 4.3h-5.2zM324.6 155.9l2.6 4.3h-5.2zM324.6 137.8l2.6 4.3h-5.2zM324.6 141.7l2.6 4.3h-5.2zM324.6 124.1l2.6 4.3h-5.2zM324.7 125l2.6 4.3h-5.2zM324.7 165l2.6 4.3h-5.2zM324.7 147.7l2.6 4.3h-5.2zM324.7 138.4l2.6 4.3h-5.2zM324.7 159.8l2.6 4.3h-5.2zM324.7 168.1l2.6 4.3h-5.2zM324.7 122.5l2.6 4.3h-5.2zM324.8 173.1l2.6 4.3h-5.2zM324.8 113.8l2.6 4.3h-5.2zM324.8 150.1l2.6 4.3h-5.2zM324.8 128.9l2.6 4.3h-5.2zM324.8 128.3l2.6 4.3h-5.2zM324.8 143l2.6 4.3h-5.2zM324.8 149.6l2.6 4.3h-5.2zM324.9 139.5l2.6 4.3h-5.2zM324.9 156.3l2.6 4.3h-5.2zM324.9 170.3l2.6 4.3h-5.2zM324.9 123.4l2.6 4.3h-5.2zM324.9 127.6l2.6 4.3h-5.2zM324.9 150l2.6 4.3h-5.2zM324.9 138.1l2.6 4.3h-5.2zM324.9 132.4l2.6 4.3h-5.2zM325 143.8l2.6 4.3h-5.2zM325 155.3l2.6 4.3h-5.2zM325 168.1l2.6 4.3h-5.2zM325 170.3l2.6 4.3h-5.2zM325 162.6l2.6 4.3h-5.2zM325 134.4l2.6 4.3h-5.2zM325 166.7l2.6 4.3h-5.2zM325.1 156.2l2.6 4.3h-5.2zM325.1 124.2l2.6 4.3h-5.2zM325.1 170.3l2.6 4.3h-5.2zM325.1 128.6l2.6 4.3h-5.2zM325.1 154.6l2.6 4.3h-5.2zM325.1 155.3l2.6 4.3h-5.2zM325.1 168.1l2.6 4.3h-5.2zM325.1 153.7l2.6 4.3h-5.2zM325.2 172.1l2.6 4.3h-5.2zM325.2 117.7l2.6 4.3h-5.2zM325.2 116.4l2.6 4.3h-5.2zM325.2 125.8l2.6 4.3h-5.2zM325.2 148.3l2.6 4.3h-5.2zM325.2 139.4l2.6 4.3h-5.2zM325.2 119.2l2.6 4.3h-5.2zM325.3 126.3l2.6 4.3h-5.2zM325.3 148.6l2.6 4.3h-5.2zM325.3 138.2l2.6 4.3h-5.2zM325.3 159.5l2.6 4.3h-5.2zM325.3 142.1l2.6 4.3h-5.2zM325.3 166.1l2.6 4.3h-5.2zM325.3 159.3l2.6 4.3h-5.2zM325.3 143.7l2.6 4.3h-5.2zM325.4 135.7l2.6 4.3h-5.2zM325.4 127.3l2.6 4.3h-5.2zM325.4 131.9l2.6 4.3h-5.2zM325.4 135.6l2.6 4.3h-5.2zM325.4 136l2.6 4.3h-5.2zM325.4 125.4l2.6 4.3h-5.2zM325.4 142.6l2.6 4.3h-5.2zM325.5 121.5l2.6 4.3h-5.2zM325.5 165.6l2.6 4.3h-5.2zM325.5 147.2l2.6 4.3h-5.2zM325.5 120.6l2.6 4.3h-5.2zM325.5 134.3l2.6 4.3h-5.2zM325.5 130.1l2.6 4.3h-5.2zM325.5 124.3l2.6 4.3h-5.2zM325.5 143.2l2.6 4.3h-5.2zM325.6 126l2.6 4.3h-5.2zM325.6 124.1l2.6 4.3h-5.2zM325.6 156.2l2.6 4.3h-5.2zM325.6 140.4l2.6 4.3h-5.2zM325.6 154.5l2.6 4.3h-5.2zM325.6 142.7l2.6 4.3h-5.2zM325.6 144.7l2.6 4.3h-5.2zM325.7 133.6l2.6 4.3h-5.2zM325.7 140.3l2.6 4.3h-5.2zM325.7 143.5l2.6 4.3h-5.2zM325.7 135.5l2.6 4.3h-5.2zM325.7 163.5l2.6 4.3h-5.2zM325.7 130l2.6 4.3h-5.2zM325.7 128.5l2.6 4.3h-5.2zM325.7 135.7l2.6 4.3h-5.2zM325.8 161.1l2.6 4.3h-5.2zM325.8 164.5l2.6 4.3h-5.2zM325.8 148.4l2.6 4.3h-5.2zM325.8 136.7l2.6 4.3h-5.2zM325.8 153.3l2.6 4.3h-5.2zM325.8 163.5l2.6 4.3h-5.2zM325.8 129.9l2.6 4.3h-5.2zM325.9 154.4l2.6 4.3h-5.2zM325.9 156.8l2.6 4.3h-5.2zM325.9 138.5l2.6 4.3h-5.2zM325.9 124.4l2.6 4.3h-5.2zM325.9 151l2.6 4.3h-5.2zM325.9 128.2l2.6 4.3h-5.2zM325.9 137.2l2.6 4.3h-5.2zM325.9 147.4l2.6 4.3h-5.2zM326 171.2l2.6 4.3h-5.2zM326 124.6l2.6 4.3h-5.2zM326 120.4l2.6 4.3h-5.2zM326 147.1l2.6 4.3h-5.2zM326 170.3l2.6 4.3h-5.2zM326 118.9l2.6 4.3h-5.2zM326 153l2.6 4.3h-5.2zM326 117.9l2.6 4.3h-5.2zM326.1 147.9l2.6 4.3h-5.2zM326.1 123.2l2.6 4.3h-5.2zM326.1 154l2.6 4.3h-5.2zM326.1 137l2.6 4.3h-5.2zM326.1 153.8l2.6 4.3h-5.2zM326.1 131.2l2.6 4.3h-5.2zM326.1 120.8l2.6 4.3h-5.2zM326.2 126.9l2.6 4.3h-5.2zM326.2 132.2l2.6 4.3h-5.2zM326.2 126l2.6 4.3h-5.2zM326.2 127.9l2.6 4.3h-5.2zM326.2 147.6l2.6 4.3h-5.2zM326.2 141.5l2.6 4.3h-5.2zM326.2 163.5l2.6 4.3h-5.2zM326.2 145l2.6 4.3h-5.2zM326.3 147.4l2.6 4.3h-5.2zM326.3 157.1l2.6 4.3h-5.2zM326.3 165l2.6 4.3h-5.2zM326.3 150l2.6 4.3h-5.2zM326.3 118.9l2.6 4.3h-5.2zM326.3 142.9l2.6 4.3h-5.2zM326.3 118.7l2.6 4.3h-5.2zM326.3 151.1l2.6 4.3h-5.2zM326.4 120.6l2.6 4.3h-5.2zM326.4 147.5l2.6 4.3h-5.2zM326.4 125.5l2.6 4.3h-5.2zM326.4 165.6l2.6 4.3h-5.2zM326.4 122.4l2.6 4.3h-5.2zM326.4 154.3l2.6 4.3h-5.2zM326.4 156.8l2.6 4.3h-5.2zM326.4 132.6l2.6 4.3h-5.2zM326.5 150.5l2.6 4.3h-5.2zM326.5 135.7l2.6 4.3h-5.2zM326.5 131.8l2.6 4.3h-5.2zM326.5 131.8l2.6 4.3h-5.2zM326.5 118.1l2.6 4.3h-5.2zM326.5 155.1l2.6 4.3h-5.2zM326.5 121.3l2.6 4.3h-5.2zM326.6 128.4l2.6 4.3h-5.2zM326.6 122.2l2.6 4.3h-5.2zM326.6 162.6l2.6 4.3h-5.2zM326.6 147.1l2.6 4.3h-5.2zM326.6 143.6l2.6 4.3h-5.2zM326.6 150.1l2.6 4.3h-5.2zM326.6 162.6l2.6 4.3h-5.2zM326.6 152.4l2.6 4.3h-5.2zM326.7 146.2l2.6 4.3h-5.2zM326.7 135l2.6 4.3h-5.2zM326.7 146.5l2.6 4.3h-5.2zM326.7 173.1l2.6 4.3h-5.2zM326.7 149.4l2.6 4.3h-5.2zM326.7 144.3l2.6 4.3h-5.2zM326.7 167.4l2.6 4.3h-5.2zM326.7 120.7l2.6 4.3h-5.2zM326.8 121.2l2.6 4.3h-5.2zM326.8 161.7l2.6 4.3h-5.2zM326.8 170.3l2.6 4.3h-5.2zM326.8 120.6l2.6 4.3h-5.2zM326.8 119.1l2.6 4.3h-5.2zM326.8 118.3l2.6 4.3h-5.2zM326.8 149.9l2.6 4.3h-5.2zM326.8 125.5l2.6 4.3h-5.2zM326.9 149.1l2.6 4.3h-5.2zM326.9 154.8l2.6 4.3h-5.2zM326.9 118.8l2.6 4.3h-5.2zM326.9 166.1l2.6 4.3h-5.2zM326.9 132l2.6 4.3h-5.2zM326.9 148.7l2.6 4.3h-5.2zM326.9 137.6l2.6 4.3h-5.2zM326.9 137.1l2.6 4.3h-5.2zM327 140.4l2.6 4.3h-5.2zM327 118.3l2.6 4.3h-5.2zM327 141.9l2.6 4.3h-5.2zM327 132.8l2.6 4.3h-5.2zM327 137.9l2.6 4.3h-5.2zM327 127.2l2.6 4.3h-5.2zM327 136.7l2.6 4.3h-5.2zM327 156.9l2.6 4.3h-5.2zM327.1 173.1l2.6 4.3h-5.2zM327.1 129.2l2.6 4.3h-5.2zM327.1 166.1l2.6 4.3h-5.2zM327.1 152.2l2.6 4.3h-5.2zM327.1 123.9l2.6 4.3h-5.2zM327.1 119.2l2.6 4.3h-5.2zM327.1 167.4l2.6 4.3h-5.2zM327.2 131.3l2.6 4.3h-5.2zM327.2 124.3l2.6 4.3h-5.2zM327.2 154.5l2.6 4.3h-5.2zM327.2 157.4l2.6 4.3h-5.2zM327.2 168.1l2.6 4.3h-5.2zM327.2 146l2.6 4.3h-5.2zM327.2 135.7l2.6 4.3h-5.2zM327.2 136.1l2.6 4.3h-5.2zM327.3 129.8l2.6 4.3h-5.2zM327.3 153.5l2.6 4.3h-5.2zM327.3 170.3l2.6 4.3h-5.2zM327.3 123.3l2.6 4.3h-5.2zM327.3 139.9l2.6 4.3h-5.2zM327.3 138l2.6 4.3h-5.2zM327.3 123.1l2.6 4.3h-5.2zM327.3 151.3l2.6 4.3h-5.2zM327.4 172.1l2.6 4.3h-5.2zM327.4 133.9l2.6 4.3h-5.2zM327.4 158.6l2.6 4.3h-5.2zM327.4 168.1l2.6 4.3h-5.2zM327.4 133.7l2.6 4.3h-5.2zM327.4 168.8l2.6 4.3h-5.2zM327.4 159.8l2.6 4.3h-5.2zM327.4 154.2l2.6 4.3h-5.2zM327.5 129.6l2.6 4.3h-5.2zM327.5 134.1l2.6 4.3h-5.2zM327.5 124.5l2.6 4.3h-5.2zM327.5 168.1l2.6 4.3h-5.2zM327.5 163l2.6 4.3h-5.2zM327.5 123.8l2.6 4.3h-5.2zM327.5 148l2.6 4.3h-5.2zM327.5 130.7l2.6 4.3h-5.2zM327.6 160.8l2.6 4.3h-5.2zM327.6 150.3l2.6 4.3h-5.2zM327.6 170.3l2.6 4.3h-5.2zM327.6 158.7l2.6 4.3h-5.2zM327.6 124.7l2.6 4.3h-5.2zM327.6 139.5l2.6 4.3h-5.2zM327.6 150.5l2.6 4.3h-5.2zM327.6 168.8l2.6 4.3h-5.2zM327.7 139.4l2.6 4.3h-5.2zM327.7 129.5l2.6 4.3h-5.2zM327.7 134.7l2.6 4.3h-5.2zM327.7 132.8l2.6 4.3h-5.2zM327.7 127.8l2.6 4.3h-5.2zM327.7 138l2.6 4.3h-5.2zM327.7 132.9l2.6 4.3h-5.2zM327.7 147.1l2.6 4.3h-5.2zM327.8 168.1l2.6 4.3h-5.2zM327.8 171.2l2.6 4.3h-5.2zM327.8 128.2l2.6 4.3h-5.2zM327.8 150.3l2.6 4.3h-5.2zM327.8 155.9l2.6 4.3h-5.2zM327.8 127.9l2.6 4.3h-5.2zM327.8 148.3l2.6 4.3h-5.2zM327.8 130.4l2.6 4.3h-5.2zM327.8 139.3l2.6 4.3h-5.2zM327.9 137.1l2.6 4.3h-5.2zM327.9 163.5l2.6 4.3h-5.2zM327.9 132.4l2.6 4.3h-5.2zM327.9 148.8l2.6 4.3h-5.2zM327.9 151.3l2.6 4.3h-5.2zM327.9 137.6l2.6 4.3h-5.2zM327.9 169.5l2.6 4.3h-5.2zM327.9 137.8l2.6 4.3h-5.2zM328 137.5l2.6 4.3h-5.2zM328 157.1l2.6 4.3h-5.2zM328 146.2l2.6 4.3h-5.2zM328 158.8l2.6 4.3h-5.2zM328 128.4l2.6 4.3h-5.2zM328 128.2l2.6 4.3h-5.2zM328 159.5l2.6 4.3h-5.2zM328 141.1l2.6 4.3h-5.2zM328.1 166.1l2.6 4.3h-5.2zM328.1 132.9l2.6 4.3h-5.2zM328.1 133.3l2.6 4.3h-5.2zM328.1 166.1l2.6 4.3h-5.2zM328.1 139.8l2.6 4.3h-5.2zM328.1 126.6l2.6 4.3h-5.2zM328.1 132.5l2.6 4.3h-5.2zM328.1 161.4l2.6 4.3h-5.2zM328.2 134.9l2.6 4.3h-5.2zM328.2 150.2l2.6 4.3h-5.2zM328.2 165l2.6 4.3h-5.2zM328.2 153.1l2.6 4.3h-5.2zM328.2 160.6l2.6 4.3h-5.2zM328.2 172.1l2.6 4.3h-5.2zM328.2 136.9l2.6 4.3h-5.2zM328.2 166.7l2.6 4.3h-5.2zM328.3 150.1l2.6 4.3h-5.2zM328.3 132l2.6 4.3h-5.2zM328.3 128.4l2.6 4.3h-5.2zM328.3 138.6l2.6 4.3h-5.2zM328.3 128.8l2.6 4.3h-5.2zM328.3 161.7l2.6 4.3h-5.2zM328.3 150.6l2.6 4.3h-5.2zM328.3 124.1l2.6 4.3h-5.2zM328.4 167.4l2.6 4.3h-5.2zM328.4 152.7l2.6 4.3h-5.2zM328.4 144.8l2.6 4.3h-5.2zM328.4 129.3l2.6 4.3h-5.2zM328.4 146.3l2.6 4.3h-5.2zM328.4 169.5l2.6 4.3h-5.2zM328.4 152.2l2.6 4.3h-5.2zM328.4 145.8l2.6 4.3h-5.2zM328.4 153.5l2.6 4.3h-5.2zM328.5 150.5l2.6 4.3h-5.2zM328.5 154.3l2.6 4.3h-5.2zM328.5 132.7l2.6 4.3h-5.2zM328.5 130.1l2.6 4.3h-5.2zM328.5 123.3l2.6 4.3h-5.2zM328.5 165l2.6 4.3h-5.2zM328.5 122.9l2.6 4.3h-5.2zM328.5 135.8l2.6 4.3h-5.2zM328.6 152.5l2.6 4.3h-5.2zM328.6 148.2l2.6 4.3h-5.2zM328.6 168.8l2.6 4.3h-5.2zM328.6 133.8l2.6 4.3h-5.2zM328.6 132.9l2.6 4.3h-5.2zM328.6 137l2.6 4.3h-5.2zM328.6 166.1l2.6 4.3h-5.2zM328.6 148.4l2.6 4.3h-5.2zM328.7 162.6l2.6 4.3h-5.2zM328.7 181.7l2.6 4.3h-5.2zM328.7 151.1l2.6 4.3h-5.2zM328.7 179.8l2.6 4.3h-5.2zM328.7 125.2l2.6 4.3h-5.2zM328.7 170.3l2.6 4.3h-5.2zM328.7 203.9l2.6 4.3h-5.2zM328.7 203.9l2.6 4.3h-5.2zM328.7 173.1l2.6 4.3h-5.2zM328.8 203.9l2.6 4.3h-5.2zM328.8 144l2.6 4.3h-5.2zM328.8 149.4l2.6 4.3h-5.2zM328.8 162.1l2.6 4.3h-5.2zM328.8 167.4l2.6 4.3h-5.2zM328.8 195.3l2.6 4.3h-5.2zM328.8 162.1l2.6 4.3h-5.2zM328.8 128.3l2.6 4.3h-5.2zM328.9 183.9l2.6 4.3h-5.2zM328.9 143.3l2.6 4.3h-5.2zM328.9 203.9l2.6 4.3h-5.2zM328.9 142.4l2.6 4.3h-5.2zM328.9 149.6l2.6 4.3h-5.2zM328.9 136.2l2.6 4.3h-5.2zM328.9 150.3l2.6 4.3h-5.2zM328.9 175.3l2.6 4.3h-5.2zM329 147.4l2.6 4.3h-5.2zM329 128.8l2.6 4.3h-5.2zM329 174.2l2.6 4.3h-5.2zM329 186.7l2.6 4.3h-5.2zM329 134.1l2.6 4.3h-5.2zM329 161l2.6 4.3h-5.2zM329 131.2l2.6 4.3h-5.2zM329 127.2l2.6 4.3h-5.2zM329 157.3l2.6 4.3h-5.2zM329.1 150.2l2.6 4.3h-5.2zM329.1 203.9l2.6 4.3h-5.2zM329.1 128.1l2.6 4.3h-5.2zM329.1 179.8l2.6 4.3h-5.2zM329.1 186.7l2.6 4.3h-5.2zM329.1 161.9l2.6 4.3h-5.2zM329.1 168.8l2.6 4.3h-5.2zM329.1 148.5l2.6 4.3h-5.2zM329.2 149.1l2.6 4.3h-5.2zM329.2 133.3l2.6 4.3h-5.2zM329.2 203.9l2.6 4.3h-5.2zM329.2 132l2.6 4.3h-5.2zM329.2 140.8l2.6 4.3h-5.2zM329.2 186.7l2.6 4.3h-5.2zM329.2 166.7l2.6 4.3h-5.2zM329.2 171.2l2.6 4.3h-5.2zM329.2 153.7l2.6 4.3h-5.2zM329.3 143.3l2.6 4.3h-5.2zM329.3 195.3l2.6 4.3h-5.2zM329.3 140.5l2.6 4.3h-5.2zM329.3 154.1l2.6 4.3h-5.2zM329.3 190.3l2.6 4.3h-5.2zM329.3 154.5l2.6 4.3h-5.2zM329.3 203.9l2.6 4.3h-5.2zM329.3 145.1l2.6 4.3h-5.2zM329.4 173.1l2.6 4.3h-5.2zM329.4 173.1l2.6 4.3h-5.2zM329.4 170.3l2.6 4.3h-5.2zM329.4 190.3l2.6 4.3h-5.2zM329.4 135.5l2.6 4.3h-5.2zM329.4 174.2l2.6 4.3h-5.2zM329.4 195.3l2.6 4.3h-5.2zM329.4 136.2l2.6 4.3h-5.2zM329.4 174.2l2.6 4.3h-5.2zM329.5 166.7l2.6 4.3h-5.2zM329.5 164l2.6 4.3h-5.2zM329.5 174.2l2.6 4.3h-5.2zM329.5 181.7l2.6 4.3h-5.2zM329.5 186.7l2.6 4.3h-5.2zM329.5 203.9l2.6 4.3h-5.2zM329.5 183.9l2.6 4.3h-5.2zM329.5 203.9l2.6 4.3h-5.2zM329.6 183.9l2.6 4.3h-5.2zM329.6 154.1l2.6 4.3h-5.2zM329.6 144.9l2.6 4.3h-5.2zM329.6 139.2l2.6 4.3h-5.2zM329.6 154.3l2.6 4.3h-5.2zM329.6 143.1l2.6 4.3h-5.2zM329.6 186.7l2.6 4.3h-5.2zM329.6 186.7l2.6 4.3h-5.2zM329.6 179.8l2.6 4.3h-5.2zM329.7 163.5l2.6 4.3h-5.2zM329.7 169.5l2.6 4.3h-5.2zM329.7 154.2l2.6 4.3h-5.2zM329.7 203.9l2.6 4.3h-5.2zM329.7 136.3l2.6 4.3h-5.2zM329.7 159l2.6 4.3h-5.2zM329.7 178.1l2.6 4.3h-5.2zM329.7 148.9l2.6 4.3h-5.2zM329.8 195.3l2.6 4.3h-5.2zM329.8 171.2l2.6 4.3h-5.2zM329.8 163l2.6 4.3h-5.2zM329.8 140.6l2.6 4.3h-5.2zM329.8 156.8l2.6 4.3h-5.2zM329.8 179.8l2.6 4.3h-5.2zM329.8 157l2.6 4.3h-5.2zM329.8 139.9l2.6 4.3h-5.2zM329.8 178.1l2.6 4.3h-5.2zM329.9 158.9l2.6 4.3h-5.2zM329.9 195.3l2.6 4.3h-5.2zM329.9 186.7l2.6 4.3h-5.2zM329.9 190.3l2.6 4.3h-5.2zM329.9 203.9l2.6 4.3h-5.2zM329.9 195.3l2.6 4.3h-5.2zM329.9 161.3l2.6 4.3h-5.2zM329.9 178.1l2.6 4.3h-5.2zM330 156.5l2.6 4.3h-5.2zM330 152.5l2.6 4.3h-5.2zM330 152.9l2.6 4.3h-5.2zM330 146.2l2.6 4.3h-5.2zM330 155.4l2.6 4.3h-5.2zM324.6 112.4l2.6 4.3h-5.2zM311.8 134.8l2.6 4.3h-5.2zM311.8 143l2.6 4.3h-5.2zM311.8 146.2l2.6 4.3h-5.2zM311.8 149l2.6 4.3h-5.2zM311.8 151.2l2.6 4.3h-5.2zM311.8 153.1l2.6 4.3h-5.2zM311.8 155.2l2.6 4.3h-5.2zM311.8 156.7l2.6 4.3h-5.2zM324.2 177.3l2.6 4.3h-5.2zM314.7 203.9l2.6 4.3h-5.2zM312.8 203.9l2.6 4.3h-5.2zM316 203.9l2.6 4.3h-5.2zM329.2 203.9l2.6 4.3h-5.2z" fill="#f0f"/>
<path d="M53.5 56.1 L54.3 56.3 L55.1 56.5 L56 56.7 L56.8 57 L57.6 57.2 L58.4 57.4 L59.3 57.6 L60.1 57.9 L60.9 58.1 L61.7 58.3 L62.6 58.6 L63.4 58.8 L64.2 59.1 L65 59.3 L65.9 59.6 L66.7 59.8 L67.5 60.1 L68.4 60.3 L69.2 60.6 L70 60.9 L70.8 61.1 L71.7 61.4 L72.5 61.7 L73.3 62 L74.1 62.2 L75 62.5 L75.8 62.8 L76.6 63.1 L77.4 63.4 L78.3 63.7 L79.1 64 L79.9 64.3 L80.8 64.6 L81.6 64.9 L82.4 65.2 L83.2 65.5 L84.1 65.8 L84.9 66.2 L85.7 66.5 L86.5 66.8 L87.4 67.1 L88.2 67.5 L89 67.8 L89.8 68.1 L90.7 68.5 L91.5 68.8 L92.3 69.2 L93.2 69.5 L94 69.9 L94.8 70.2 L95.6 70.6 L96.5 70.9 L97.3 71.3 L98.1 71.6 L98.9 72 L99.8 72.4 L100.6 72.7 L101.4 73.1 L102.2 73.5 L103.1 73.9 L103.9 74.2 L104.7 74.6 L105.6 75 L106.4 75.4 L107.2 75.8 L108 76.2 L108.9 76.5 L109.7 76.9 L110.5 77.3 L111.3 77.7 L112.2 78.1 L113 78.5 L113.8 78.9 L114.6 79.4 L115.5 79.8 L116.3 80.2 L117.1 80.6 L118 81 L118.8 81.4 L119.6 81.8 L120.4 82.3 L121.3 82.7 L122.1 83.1 L122.9 83.5 L123.7 84 L124.6 84.4 L125.4 84.8 L126.2 85.3 L127 85.7 L127.9 86.1 L128.7 86.6 L129.5 87 L130.4 87.5 L131.2 87.9 L132 88.4 L132.8 88.8 L133.7 89.3 L134.5 89.7 L135.3 90.2 L136.1 90.6 L137 91.1 L137.8 91.5 L138.6 92 L139.4 92.5 L140.3 92.9 L141.1 93.4 L141.9 93.9 L142.8 94.4 L143.6 94.8 L144.4 95.3 L145.2 95.8 L146.1 96.3 L146.9 96.8 L147.7 97.2 L148.5 97.7 L149.4 98.2 L150.2 98.7 L151 99.2 L151.8 99.7 L152.7 100.2 L153.5 100.7 L154.3 101.2 L155.2 101.7 L156 102.2 L156.8 102.7 L157.6 103.3 L158.5 103.8 L159.3 104.3 L160.1 104.8 L160.9 105.3 L161.8 105.9 L162.6 106.4 L163.4 106.9 L164.2 107.5 L165.1 108 L165.9 108.5 L166.7 109.1 L167.6 109.6 L168.4 110.2 L169.2 110.7 L170 111.3 L170.9 111.8 L171.7 112.4 L172.5 113 L173.3 113.5 L174.2 114.1 L175 114.7 L175.8 115.3 L176.6 115.8 L177.5 116.4 L178.3 117 L179.1 117.6 L180 118.2 L180.8 118.8 L181.6 119.4 L182.4 120 L183.3 120.7 L184.1 121.3 L184.9 121.9 L185.7 122.5 L186.6 123.2 L187.4 123.8 L188.2 124.5 L189 125.1 L189.9 125.8 L190.7 126.4 L191.5 127.1 L192.4 127.8 L193.2 128.4 L194 129.1 L194.8 129.8 L195.7 130.5 L196.5 131.2 L197.3 131.9 L198.1 132.7 L199 133.4 L199.8 134.1 L200.6 134.9 L201.4 135.6 L202.3 136.4 L203.1 137.1 L203.9 137.9 L204.8 138.7 L205.6 139.5 L206.4 140.3 L207.2 141.1 L208.1 141.9 L208.9 142.7 L209.7 143.5 L210.5 144.4 L211.4 145.2 L212.2 146.1 L213 147 L213.8 147.9 L214.7 148.8 L215.5 149.7 L216.3 150.6 L217.2 151.5 L218 152.5" fill="none" stroke="#00f" stroke-width="1.4" stroke-dasharray="1.4 2.5"/>
</g>
<g stroke="#000" stroke-width="1.1" fill="none">
<rect x="53.5" y="15.1" width="317.6" height="220.25"/>
<path d="M68.5 235.3v-2.5M68.5 15.1v2.5M75.7 235.3v-5M75.7 15.1v5M97.9 235.3v-2.5M97.9 15.1v2.5M127.3 235.3v-2.5M127.3 15.1v2.5M142.4 235.3v-2.5M142.4 15.1v2.5M149.5 235.3v-5M149.5 15.1v5M171.8 235.3v-2.5M171.8 15.1v2.5M201.2 235.3v-2.5M201.2 15.1v2.5M216.2 235.3v-2.5M216.2 15.1v2.5M223.4 235.3v-5M223.4 15.1v5M245.6 235.3v-2.5M245.6 15.1v2.5M275 235.3v-2.5M275 15.1v2.5M290.1 235.3v-2.5M290.1 15.1v2.5M297.2 235.3v-5M297.2 15.1v5M319.4 235.3v-2.5M319.4 15.1v2.5M348.8 235.3v-2.5M348.8 15.1v2.5M363.9 235.3v-2.5M363.9 15.1v2.5M53.5 206.4h5M371.1 206.4h-5M53.5 177.8h5M371.1 177.8h-5M53.5 149.3h5M371.1 149.3h-5M53.5 120.7h5M371.1 120.7h-5M53.5 92.1h5M371.1 92.1h-5M53.5 63.5h5M371.1 63.5h-5M53.5 35h5M371.1 35h-5"/>
</g>
<g font-family="'Liberation Serif',serif" font-size="12.5" fill="#000">
<text x="47" y="241.3" text-anchor="end">10<tspan font-size="10.3" dy="-6.3">-7</tspan></text>
<text x="47" y="212.7" text-anchor="end">10<tspan font-size="10.3" dy="-6.3">-6</tspan></text>
<text x="47" y="184.1" text-anchor="end">10<tspan font-size="10.3" dy="-6.3">-5</tspan></text>
<text x="47" y="155.6" text-anchor="end">10<tspan font-size="10.3" dy="-6.3">-4</tspan></text>
<text x="47" y="127" text-anchor="end">10<tspan font-size="10.3" dy="-6.3">-3</tspan></text>
<text x="47" y="98.4" text-anchor="end">10<tspan font-size="10.3" dy="-6.3">-2</tspan></text>
<text x="47" y="69.8" text-anchor="end">10<tspan font-size="10.3" dy="-6.3">-1</tspan></text>
<text x="47" y="39.6" text-anchor="end">1</text>
<text x="77.5" y="253" text-anchor="middle">1</text>
<text x="151.3" y="253" text-anchor="middle">10</text>
<text x="225.2" y="253" text-anchor="middle">100</text>
<text x="299" y="253" text-anchor="middle">1000</text>
<text x="372.9" y="253" text-anchor="middle">10000</text>
<text x="212.5" y="270.7" text-anchor="middle" font-style="italic">Size of reachable set</text>
<text transform="translate(14.1 125.2) rotate(-90)" text-anchor="middle" font-style="italic">Relative frequency</text>
<text x="267.5" y="30.5" text-anchor="end" font-style="italic">Numerical<tspan font-style="normal">,</tspan></text>
<text x="274.6" y="30.5" font-style="italic">k</text>
<text x="288.6" y="30.5">=</text>
<text x="313.3" y="30.5" text-anchor="end">0.5</text>
<text x="267.5" y="43" text-anchor="end" font-style="italic">Theoretical<tspan font-style="normal">,</tspan></text>
<text x="274.6" y="43" font-style="italic">k</text>
<text x="288.6" y="43">=</text>
<text x="313.3" y="43" text-anchor="end">0.5</text>
<text x="276.8" y="55.4" text-anchor="end" font-style="italic">Numerical<tspan font-style="normal">,</tspan></text>
<text x="283.9" y="55.4" font-style="italic">k</text>
<text x="297.9" y="55.4">=</text>
<text x="313.3" y="55.4" text-anchor="end">1</text>
<text x="276.8" y="67.8" text-anchor="end" font-style="italic">Theoretical<tspan font-style="normal">,</tspan></text>
<text x="283.9" y="67.8" font-style="italic">k</text>
<text x="297.9" y="67.8">=</text>
<text x="313.3" y="67.8" text-anchor="end">1</text>
<text x="267.5" y="80.3" text-anchor="end" font-style="italic">Numerical<tspan font-style="normal">,</tspan></text>
<text x="274.6" y="80.3" font-style="italic">k</text>
<text x="288.6" y="80.3">=</text>
<text x="313.3" y="80.3" text-anchor="end">1.3</text>
<text x="267.5" y="92.8" text-anchor="end" font-style="italic">Theoretical<tspan font-style="normal">,</tspan></text>
<text x="274.6" y="92.8" font-style="italic">k</text>
<text x="288.6" y="92.8">=</text>
<text x="313.3" y="92.8" text-anchor="end">1.3</text>
</g>
<path d="M274 23l-2.4 4.3l2.4 4.3M282.1 23l2.4 4.3l-2.4 4.3M274 35.5l-2.4 4.3l2.4 4.3M282.1 35.5l2.4 4.3l-2.4 4.3M283.3 47.9l-2.4 4.3l2.4 4.3M291.4 47.9l2.4 4.3l-2.4 4.3M283.3 60.3l-2.4 4.3l2.4 4.3M291.4 60.3l2.4 4.3l-2.4 4.3M274 72.8l-2.4 4.3l2.4 4.3M282.1 72.8l2.4 4.3l-2.4 4.3M274 85.2l-2.4 4.3l2.4 4.3M282.1 85.2l2.4 4.3l-2.4 4.3" fill="none" stroke="#000" stroke-width="0.9"/>
<path d="M336.2 24.2h4.6v4.6h-4.6z" fill="#f00"/>
<path d="M321 39H356.3" stroke="#0f0" stroke-width="1.5"/>
<path d="M338.5 51.4h0" fill="none" stroke="#808080" stroke-width="5" stroke-linecap="round"/>
<path d="M321 63.8H356.7" stroke="#000" stroke-width="1.3" stroke-dasharray="3.3 1.4"/>
<path d="M338.6 73.8l2.6 4.3h-5.2z" fill="#f0f"/>
<path d="M321.2 88.8H355" stroke="#00f" stroke-width="1.4" stroke-dasharray="1.4 2.5"/>
</svg>
</body></html>
